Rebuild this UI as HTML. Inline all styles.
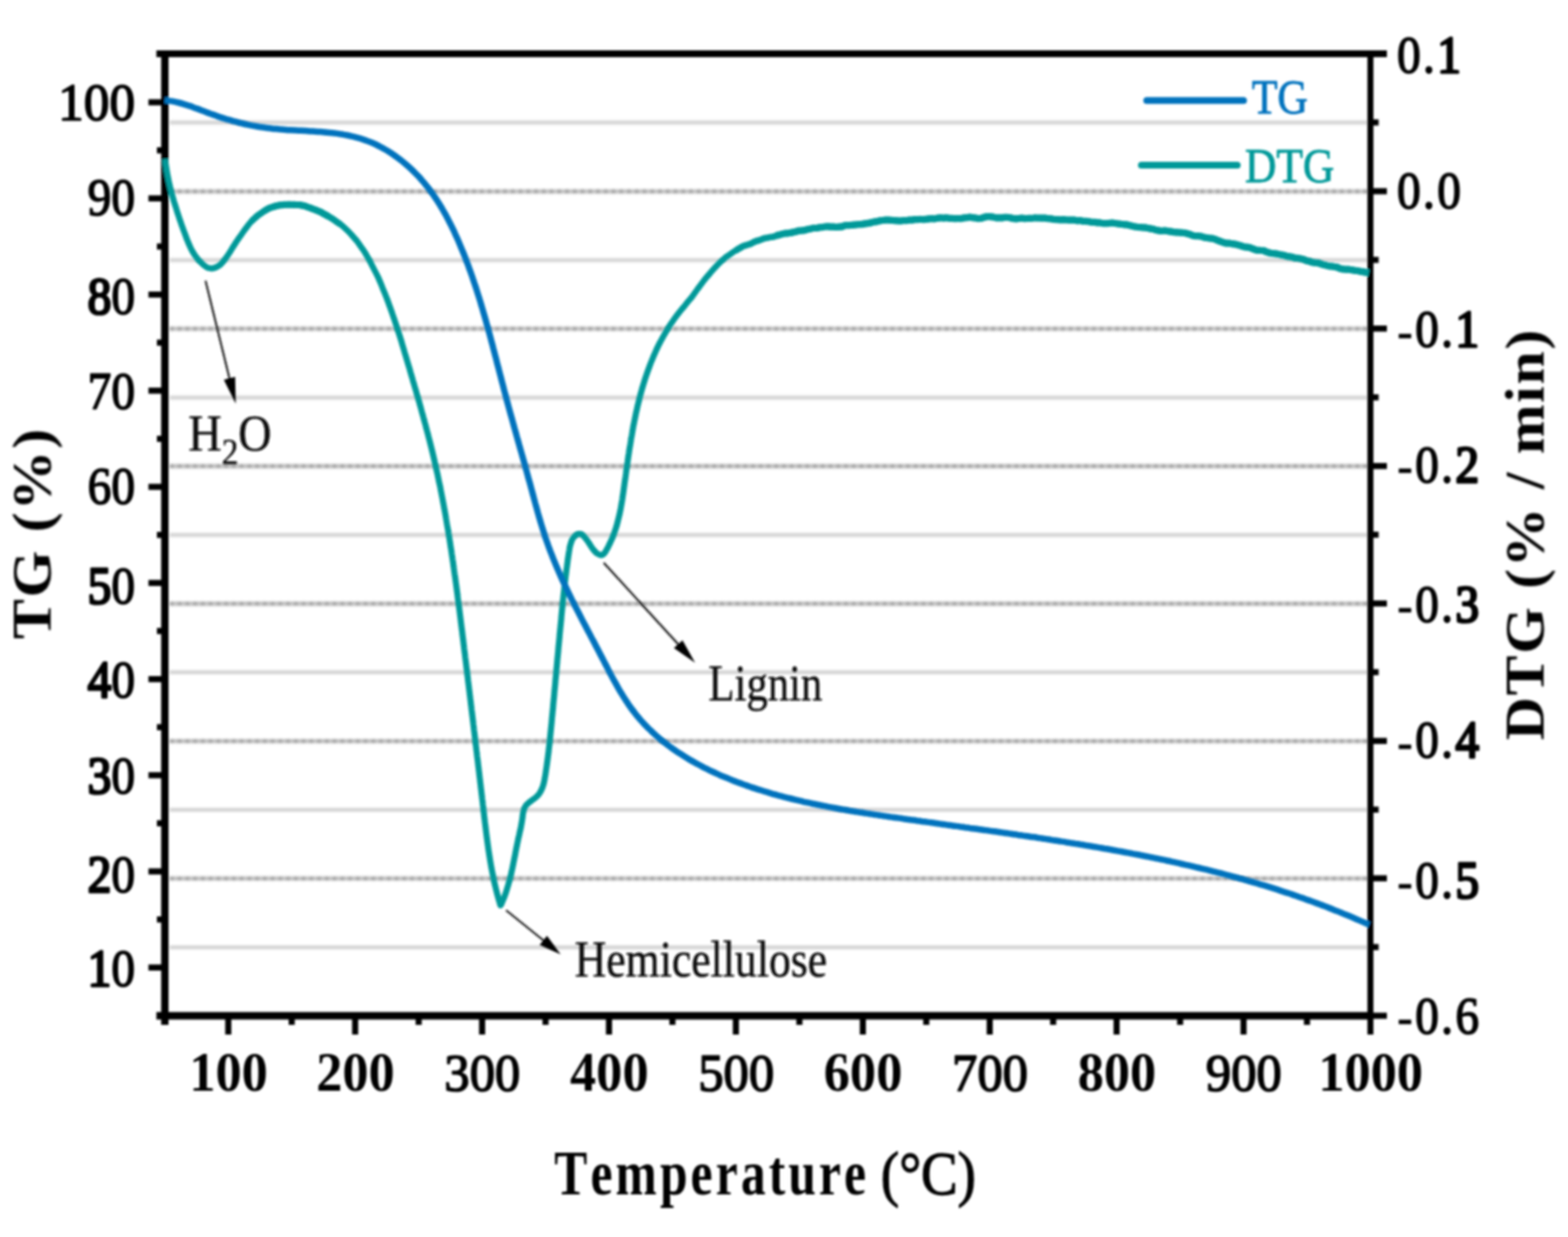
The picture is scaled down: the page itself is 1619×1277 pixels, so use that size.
<!DOCTYPE html>
<html lang="en"><head><meta charset="utf-8"><title>TG / DTG curves</title>
<style>
html,body{margin:0;padding:0;background:#fff;}
body{width:1619px;height:1277px;overflow:hidden;}
svg{display:block;}
text{font-family:"Liberation Serif","Times New Roman",serif;font-kerning:none;}
.b{font-weight:bold;}
.s1{stroke:#000;stroke-width:1.3px;stroke-linejoin:round;}
.sb{stroke:#0072bd;stroke-width:0.9px;stroke-linejoin:round;}
.st{stroke:#009999;stroke-width:0.9px;stroke-linejoin:round;}
.sa{stroke:#111;stroke-width:0.5px;stroke-linejoin:round;}
.tl{stroke:#000;stroke-width:1.6px;stroke-linejoin:round;}
.hy{stroke-width:0.3px;}
.hv{stroke-width:2.7px;}
</style></head><body>
<svg width="1619" height="1277" viewBox="0 0 1619 1277">
<defs><filter id="bl" x="-5%" y="-5%" width="110%" height="110%"><feGaussianBlur in="SourceGraphic" stdDeviation="1.0"/></filter><filter id="bg" x="-5%" y="-5%" width="110%" height="110%"><feGaussianBlur in="SourceGraphic" stdDeviation="1.7"/></filter></defs>
<rect width="1619" height="1277" fill="#fff"/>
<g fill="none" filter="url(#bg)">
<line x1="175.2" y1="126.6" x2="1412.0" y2="126.6" stroke="#d3d3d3" stroke-width="4"/>
<line x1="175.2" y1="197.6" x2="1413.0" y2="197.6" stroke="#c4c4c4" stroke-width="4.4"/>
<line x1="175.2" y1="197.6" x2="1413.0" y2="197.6" stroke="#8a8a8a" stroke-width="3.6" stroke-dasharray="4.5 3.5" opacity="0.6"/>
<line x1="175.2" y1="268.5" x2="1412.0" y2="268.5" stroke="#d3d3d3" stroke-width="4"/>
<line x1="175.2" y1="339.4" x2="1413.0" y2="339.4" stroke="#c4c4c4" stroke-width="4.4"/>
<line x1="175.2" y1="339.4" x2="1413.0" y2="339.4" stroke="#8a8a8a" stroke-width="3.6" stroke-dasharray="4.5 3.5" opacity="0.6"/>
<line x1="175.2" y1="410.4" x2="1412.0" y2="410.4" stroke="#d3d3d3" stroke-width="4"/>
<line x1="175.2" y1="481.3" x2="1413.0" y2="481.3" stroke="#c4c4c4" stroke-width="4.4"/>
<line x1="175.2" y1="481.3" x2="1413.0" y2="481.3" stroke="#8a8a8a" stroke-width="3.6" stroke-dasharray="4.5 3.5" opacity="0.6"/>
<line x1="175.2" y1="552.2" x2="1412.0" y2="552.2" stroke="#d3d3d3" stroke-width="4"/>
<line x1="175.2" y1="623.2" x2="1413.0" y2="623.2" stroke="#c4c4c4" stroke-width="4.4"/>
<line x1="175.2" y1="623.2" x2="1413.0" y2="623.2" stroke="#8a8a8a" stroke-width="3.6" stroke-dasharray="4.5 3.5" opacity="0.6"/>
<line x1="175.2" y1="694.1" x2="1412.0" y2="694.1" stroke="#d3d3d3" stroke-width="4"/>
<line x1="175.2" y1="765.1" x2="1413.0" y2="765.1" stroke="#c4c4c4" stroke-width="4.4"/>
<line x1="175.2" y1="765.1" x2="1413.0" y2="765.1" stroke="#8a8a8a" stroke-width="3.6" stroke-dasharray="4.5 3.5" opacity="0.6"/>
<line x1="175.2" y1="836.0" x2="1412.0" y2="836.0" stroke="#d3d3d3" stroke-width="4"/>
<line x1="175.2" y1="906.9" x2="1413.0" y2="906.9" stroke="#c4c4c4" stroke-width="4.4"/>
<line x1="175.2" y1="906.9" x2="1413.0" y2="906.9" stroke="#8a8a8a" stroke-width="3.6" stroke-dasharray="4.5 3.5" opacity="0.6"/>
<line x1="175.2" y1="977.9" x2="1412.0" y2="977.9" stroke="#d3d3d3" stroke-width="4"/>
</g>
<g filter="url(#bl)">
<g stroke="#000" fill="none" stroke-linecap="butt">
<line x1="161.5" y1="55.5" x2="1432.0" y2="55.5" stroke-width="7.2"/>
<line x1="161.5" y1="1048.6" x2="1415.0" y2="1048.6" stroke-width="7.6"/>
<line x1="1415.0" y1="1048.6" x2="1432.0" y2="1048.6" stroke-width="6.3"/>
<line x1="170.2" y1="52.5" x2="170.2" y2="1058.0" stroke-width="7.6"/>
<line x1="1415.0" y1="52.5" x2="1415.0" y2="1068.0" stroke-width="6.2"/>
<g stroke-width="6.3">
<line x1="153.3" y1="998.8" x2="170.2" y2="998.8"/>
<line x1="153.3" y1="899.6" x2="170.2" y2="899.6"/>
<line x1="153.3" y1="800.3" x2="170.2" y2="800.3"/>
<line x1="153.3" y1="701.1" x2="170.2" y2="701.1"/>
<line x1="153.3" y1="601.8" x2="170.2" y2="601.8"/>
<line x1="153.3" y1="502.6" x2="170.2" y2="502.6"/>
<line x1="153.3" y1="403.3" x2="170.2" y2="403.3"/>
<line x1="153.3" y1="304.1" x2="170.2" y2="304.1"/>
<line x1="153.3" y1="204.8" x2="170.2" y2="204.8"/>
<line x1="153.3" y1="105.6" x2="170.2" y2="105.6"/>
<line x1="162.0" y1="949.2" x2="170.2" y2="949.2"/>
<line x1="162.0" y1="849.9" x2="170.2" y2="849.9"/>
<line x1="162.0" y1="750.7" x2="170.2" y2="750.7"/>
<line x1="162.0" y1="651.4" x2="170.2" y2="651.4"/>
<line x1="162.0" y1="552.2" x2="170.2" y2="552.2"/>
<line x1="162.0" y1="453.0" x2="170.2" y2="453.0"/>
<line x1="162.0" y1="353.7" x2="170.2" y2="353.7"/>
<line x1="162.0" y1="254.5" x2="170.2" y2="254.5"/>
<line x1="162.0" y1="155.2" x2="170.2" y2="155.2"/>
<line x1="1415.0" y1="126.4" x2="1423.5" y2="126.4"/>
<line x1="1415.0" y1="197.4" x2="1432.0" y2="197.4"/>
<line x1="1415.0" y1="268.3" x2="1423.5" y2="268.3"/>
<line x1="1415.0" y1="339.2" x2="1432.0" y2="339.2"/>
<line x1="1415.0" y1="410.2" x2="1423.5" y2="410.2"/>
<line x1="1415.0" y1="481.1" x2="1432.0" y2="481.1"/>
<line x1="1415.0" y1="552.0" x2="1423.5" y2="552.0"/>
<line x1="1415.0" y1="623.0" x2="1432.0" y2="623.0"/>
<line x1="1415.0" y1="693.9" x2="1423.5" y2="693.9"/>
<line x1="1415.0" y1="764.9" x2="1432.0" y2="764.9"/>
<line x1="1415.0" y1="835.8" x2="1423.5" y2="835.8"/>
<line x1="1415.0" y1="906.7" x2="1432.0" y2="906.7"/>
<line x1="1415.0" y1="977.7" x2="1423.5" y2="977.7"/>
<line x1="235.7" y1="1048.6" x2="235.7" y2="1068.0"/>
<line x1="366.7" y1="1048.6" x2="366.7" y2="1068.0"/>
<line x1="497.8" y1="1048.6" x2="497.8" y2="1068.0"/>
<line x1="628.8" y1="1048.6" x2="628.8" y2="1068.0"/>
<line x1="759.8" y1="1048.6" x2="759.8" y2="1068.0"/>
<line x1="890.9" y1="1048.6" x2="890.9" y2="1068.0"/>
<line x1="1021.9" y1="1048.6" x2="1021.9" y2="1068.0"/>
<line x1="1152.9" y1="1048.6" x2="1152.9" y2="1068.0"/>
<line x1="1284.0" y1="1048.6" x2="1284.0" y2="1068.0"/>
<line x1="301.2" y1="1048.6" x2="301.2" y2="1058.0"/>
<line x1="432.3" y1="1048.6" x2="432.3" y2="1058.0"/>
<line x1="563.3" y1="1048.6" x2="563.3" y2="1058.0"/>
<line x1="694.3" y1="1048.6" x2="694.3" y2="1058.0"/>
<line x1="825.4" y1="1048.6" x2="825.4" y2="1058.0"/>
<line x1="956.4" y1="1048.6" x2="956.4" y2="1058.0"/>
<line x1="1087.4" y1="1048.6" x2="1087.4" y2="1058.0"/>
<line x1="1218.5" y1="1048.6" x2="1218.5" y2="1058.0"/>
<line x1="1349.5" y1="1048.6" x2="1349.5" y2="1058.0"/>
</g></g>
<g transform="scale(1.000 1)" fill="none" stroke-width="6.3" stroke-linejoin="round" stroke-linecap="butt">
<path d="M170.5 163.9C170.6 164.5 170.7 166.0 170.8 167.0C171.0 168.0 171.1 169.0 171.2 170.0C171.4 171.0 171.5 172.0 171.7 173.0C171.8 174.0 172.0 175.0 172.1 176.0C172.3 176.9 172.5 177.9 172.6 178.9C172.8 179.9 173.0 180.9 173.2 181.9C173.4 182.9 173.6 183.9 173.8 184.9C174.0 185.8 174.2 186.8 174.4 187.8C174.6 188.8 174.8 189.8 175.1 190.7C175.3 191.7 175.5 192.7 175.7 193.6C176.0 194.6 176.2 195.6 176.5 196.5C176.7 197.5 177.0 198.4 177.2 199.4C177.5 200.3 177.7 201.3 178.0 202.3C178.3 203.2 178.5 204.1 178.8 205.0C179.1 206.0 179.3 207.0 179.6 208.0C179.9 208.9 180.2 209.8 180.5 210.8C180.8 211.7 181.1 212.7 181.4 213.6C181.7 214.5 182.0 215.4 182.3 216.4C182.6 217.3 182.9 218.3 183.2 219.3C183.5 220.3 183.8 221.2 184.1 222.2C184.5 223.2 184.8 224.2 185.1 225.1C185.4 226.1 185.7 227.0 186.1 227.9C186.4 228.9 186.7 229.9 187.1 230.8C187.4 231.8 187.7 232.8 188.1 233.7C188.4 234.7 188.7 235.6 189.1 236.5C189.4 237.5 189.8 238.3 190.1 239.2C190.5 240.2 190.8 241.1 191.2 242.1C191.5 243.0 191.9 244.0 192.2 245.0C192.6 246.0 193.0 247.0 193.4 248.0C193.8 248.9 194.1 249.8 194.5 250.8C194.9 251.7 195.4 252.7 195.8 253.6C196.2 254.6 196.7 255.6 197.1 256.5C197.6 257.4 198.0 258.3 198.5 259.1C199.0 260.0 199.5 260.9 200.1 261.7C200.6 262.6 201.1 263.3 201.7 264.2C202.3 265.0 202.9 265.8 203.5 266.6C204.1 267.4 204.8 268.2 205.4 268.9C206.1 269.6 206.8 270.2 207.5 270.9C208.2 271.6 209.0 272.5 209.8 273.2C210.6 273.8 211.4 274.5 212.2 275.1C213.1 275.6 213.9 276.2 214.8 276.5C215.7 276.8 216.6 276.9 217.4 277.0C218.3 277.1 219.2 277.1 220.1 276.9C221.0 276.8 221.9 276.4 222.8 276.0C223.7 275.6 224.5 275.2 225.4 274.7C226.2 274.2 227.0 273.6 227.7 273.0C228.5 272.3 229.2 271.4 229.9 270.6C230.6 269.8 231.3 269.0 231.9 268.1C232.6 267.3 233.2 266.4 233.8 265.5C234.4 264.7 235.0 263.8 235.6 262.9C236.2 262.1 236.7 261.2 237.3 260.4C237.8 259.5 238.4 258.6 238.9 257.7C239.5 256.8 240.0 255.9 240.5 255.0C241.1 254.2 241.6 253.4 242.2 252.5C242.7 251.7 243.3 250.8 243.8 250.0C244.3 249.2 244.9 248.4 245.4 247.6C246.0 246.8 246.5 246.0 247.1 245.2C247.7 244.4 248.2 243.6 248.8 242.8C249.3 242.1 249.9 241.2 250.5 240.4C251.1 239.6 251.6 238.7 252.2 237.9C252.8 237.1 253.4 236.3 254.0 235.5C254.6 234.7 255.2 233.9 255.8 233.1C256.5 232.3 257.1 231.5 257.7 230.7C258.4 229.9 259.0 229.1 259.7 228.4C260.4 227.6 261.1 227.0 261.8 226.3C262.5 225.6 263.2 225.0 263.9 224.4C264.6 223.7 265.4 223.1 266.1 222.5C266.9 221.9 267.7 221.4 268.5 220.9C269.3 220.3 270.1 219.6 271.0 219.1C271.8 218.5 272.7 218.0 273.6 217.5C274.5 216.9 275.4 216.3 276.3 215.8C277.2 215.3 278.1 214.9 279.1 214.5C280.0 214.2 280.9 213.9 281.9 213.6C282.9 213.3 283.8 213.0 284.8 212.7C285.8 212.5 286.8 212.2 287.8 212.0C288.8 211.8 289.8 211.8 290.8 211.7C291.8 211.6 292.8 211.3 293.8 211.2C294.8 211.2 295.8 211.2 296.8 211.2C297.8 211.2 298.8 211.1 299.9 211.2C300.9 211.2 301.9 211.3 302.9 211.3C303.9 211.4 304.9 211.3 305.9 211.4C306.8 211.4 307.8 211.5 308.8 211.6C309.8 211.7 310.8 211.8 311.7 212.0C312.7 212.1 313.7 212.3 314.6 212.6C315.6 212.9 316.5 213.3 317.5 213.7C318.4 214.0 319.4 214.2 320.3 214.6C321.3 215.0 322.2 215.5 323.1 215.8C324.0 216.2 325.0 216.4 325.9 216.7C326.8 217.1 327.7 217.5 328.6 217.9C329.5 218.3 330.4 218.6 331.3 219.0C332.2 219.5 333.1 220.1 334.0 220.6C334.9 221.1 335.8 221.5 336.6 222.0C337.5 222.4 338.4 223.0 339.3 223.5C340.1 224.0 341.0 224.4 341.8 224.9C342.7 225.5 343.5 226.0 344.4 226.6C345.2 227.2 346.1 227.8 346.9 228.4C347.7 229.0 348.5 229.5 349.3 230.1C350.1 230.6 350.9 231.1 351.7 231.7C352.5 232.3 353.3 233.0 354.1 233.7C354.8 234.3 355.6 235.0 356.3 235.7C357.1 236.4 357.8 237.1 358.6 237.8C359.3 238.6 360.0 239.3 360.7 240.0C361.4 240.8 362.1 241.4 362.7 242.1C363.4 242.9 364.1 243.7 364.7 244.4C365.4 245.1 366.0 245.8 366.7 246.6C367.3 247.3 367.9 248.0 368.5 248.8C369.2 249.6 369.8 250.6 370.4 251.4C371.0 252.2 371.5 253.0 372.1 253.8C372.7 254.6 373.3 255.5 373.8 256.3C374.4 257.1 374.9 257.8 375.5 258.6C376.0 259.4 376.5 260.2 377.1 261.1C377.6 262.0 378.1 262.9 378.6 263.8C379.1 264.7 379.6 265.5 380.1 266.4C380.6 267.2 381.1 268.1 381.6 268.9C382.1 269.8 382.6 270.8 383.0 271.7C383.5 272.6 384.0 273.5 384.4 274.5C384.9 275.4 385.4 276.3 385.8 277.2C386.3 278.1 386.7 278.9 387.1 279.7C387.6 280.6 388.0 281.4 388.4 282.2C388.9 283.1 389.3 283.9 389.7 284.8C390.1 285.7 390.6 286.6 391.0 287.5C391.4 288.5 391.8 289.4 392.2 290.4C392.6 291.3 393.0 292.3 393.4 293.2C393.8 294.2 394.2 295.2 394.6 296.2C395.0 297.1 395.3 298.0 395.7 299.0C396.1 299.9 396.5 300.8 396.9 301.7C397.2 302.7 397.6 303.6 398.0 304.5C398.3 305.4 398.7 306.3 399.1 307.2C399.4 308.1 399.8 309.1 400.1 310.0C400.5 311.0 400.8 311.9 401.2 312.9C401.5 313.9 401.9 314.8 402.2 315.8C402.6 316.7 402.9 317.6 403.2 318.5C403.6 319.5 403.9 320.3 404.2 321.3C404.6 322.2 404.9 323.2 405.2 324.2C405.6 325.1 405.9 326.0 406.2 327.0C406.5 327.9 406.9 328.9 407.2 329.9C407.5 330.9 407.8 331.8 408.1 332.7C408.4 333.7 408.7 334.7 409.1 335.7C409.4 336.6 409.7 337.5 410.0 338.5C410.3 339.4 410.6 340.3 410.9 341.2C411.2 342.2 411.5 343.1 411.8 344.0C412.1 344.9 412.4 345.8 412.7 346.8C413.0 347.7 413.3 348.7 413.6 349.6C413.9 350.6 414.2 351.5 414.5 352.5C414.8 353.5 415.0 354.4 415.3 355.4C415.6 356.4 415.9 357.4 416.2 358.4C416.5 359.4 416.8 360.4 417.1 361.3C417.4 362.3 417.6 363.2 417.9 364.2C418.2 365.1 418.5 366.0 418.8 367.0C419.1 368.0 419.4 368.9 419.6 369.9C419.9 370.9 420.2 371.9 420.5 372.9C420.8 373.9 421.1 374.8 421.3 375.7C421.6 376.7 421.9 377.6 422.2 378.6C422.5 379.5 422.8 380.5 423.1 381.4C423.3 382.4 423.6 383.4 423.9 384.4C424.2 385.3 424.5 386.3 424.7 387.3C425.0 388.2 425.3 389.2 425.6 390.2C425.9 391.2 426.2 392.2 426.4 393.2C426.7 394.1 427.0 395.1 427.3 396.0C427.6 397.0 427.8 397.9 428.1 398.8C428.4 399.8 428.7 400.8 429.0 401.7C429.2 402.7 429.5 403.7 429.8 404.6C430.1 405.6 430.3 406.6 430.6 407.5C430.9 408.4 431.2 409.3 431.5 410.3C431.7 411.2 432.0 412.2 432.3 413.1C432.5 414.1 432.8 415.0 433.1 416.0C433.4 417.0 433.6 418.0 433.9 419.0C434.2 420.0 434.5 421.0 434.7 421.9C435.0 422.9 435.3 423.9 435.5 424.9C435.8 425.8 436.1 426.8 436.3 427.8C436.6 428.7 436.9 429.7 437.1 430.7C437.4 431.7 437.6 432.6 437.9 433.6C438.2 434.5 438.4 435.5 438.7 436.5C439.0 437.4 439.2 438.4 439.5 439.4C439.7 440.3 440.0 441.3 440.2 442.3C440.5 443.2 440.8 444.2 441.0 445.2C441.3 446.1 441.5 447.0 441.8 448.0C442.0 448.9 442.3 449.9 442.5 450.9C442.8 451.8 443.0 452.8 443.3 453.8C443.5 454.8 443.8 455.8 444.0 456.7C444.3 457.7 444.5 458.7 444.7 459.6C445.0 460.6 445.2 461.6 445.5 462.6C445.7 463.5 445.9 464.5 446.2 465.4C446.4 466.4 446.6 467.4 446.9 468.4C447.1 469.4 447.3 470.4 447.6 471.3C447.8 472.3 448.0 473.3 448.3 474.3C448.5 475.2 448.7 476.2 448.9 477.2C449.2 478.2 449.4 479.2 449.6 480.1C449.8 481.1 450.1 482.1 450.3 483.1C450.5 484.1 450.7 485.0 450.9 486.0C451.1 486.9 451.4 487.9 451.6 488.9C451.8 489.9 452.0 490.9 452.2 491.9C452.4 492.9 452.6 493.9 452.8 494.9C453.0 495.9 453.2 496.8 453.4 497.8C453.6 498.8 453.9 499.8 454.1 500.7C454.3 501.7 454.5 502.6 454.7 503.6C454.8 504.5 455.0 505.5 455.2 506.5C455.4 507.5 455.6 508.5 455.8 509.5C456.0 510.5 456.2 511.5 456.4 512.5C456.6 513.5 456.8 514.5 457.0 515.5C457.2 516.5 457.3 517.4 457.5 518.4C457.7 519.4 457.9 520.4 458.1 521.4C458.3 522.3 458.4 523.3 458.6 524.3C458.8 525.2 459.0 526.2 459.2 527.2C459.3 528.2 459.5 529.2 459.7 530.1C459.9 531.1 460.0 532.1 460.2 533.1C460.4 534.1 460.6 535.1 460.7 536.1C460.9 537.1 461.1 538.1 461.2 539.1C461.4 540.1 461.6 541.1 461.7 542.1C461.9 543.0 462.1 544.0 462.2 545.0C462.4 546.0 462.6 547.0 462.7 547.9C462.9 548.9 463.1 549.9 463.2 550.8C463.4 551.8 463.5 552.8 463.7 553.8C463.8 554.8 464.0 555.7 464.2 556.7C464.3 557.7 464.5 558.7 464.6 559.7C464.8 560.7 464.9 561.7 465.1 562.7C465.2 563.7 465.4 564.7 465.5 565.7C465.7 566.7 465.9 567.7 466.0 568.7C466.2 569.7 466.3 570.6 466.4 571.6C466.6 572.6 466.7 573.6 466.9 574.6C467.0 575.5 467.2 576.5 467.3 577.5C467.5 578.5 467.6 579.5 467.8 580.5C467.9 581.5 468.0 582.6 468.2 583.6C468.3 584.6 468.5 585.5 468.6 586.5C468.8 587.5 468.9 588.6 469.0 589.6C469.2 590.6 469.3 591.5 469.4 592.5C469.6 593.5 469.7 594.5 469.9 595.5C470.0 596.5 470.1 597.5 470.3 598.5C470.4 599.5 470.5 600.5 470.7 601.5C470.8 602.5 470.9 603.4 471.1 604.4C471.2 605.4 471.3 606.4 471.5 607.4C471.6 608.4 471.7 609.4 471.9 610.4C472.0 611.4 472.1 612.4 472.3 613.3C472.4 614.3 472.5 615.3 472.6 616.3C472.8 617.3 472.9 618.3 473.0 619.3C473.2 620.3 473.3 621.3 473.4 622.3C473.5 623.2 473.7 624.3 473.8 625.3C473.9 626.3 474.1 627.3 474.2 628.3C474.3 629.3 474.4 630.3 474.6 631.3C474.7 632.3 474.8 633.2 474.9 634.2C475.1 635.2 475.2 636.2 475.3 637.2C475.4 638.2 475.6 639.2 475.7 640.2C475.8 641.2 475.9 642.2 476.0 643.2C476.2 644.2 476.3 645.2 476.4 646.2C476.5 647.2 476.7 648.1 476.8 649.1C476.9 650.1 477.0 651.1 477.2 652.1C477.3 653.1 477.4 654.1 477.5 655.1C477.6 656.1 477.8 657.1 477.9 658.1C478.0 659.1 478.1 660.1 478.3 661.1C478.4 662.1 478.5 663.1 478.6 664.0C478.7 665.0 478.9 666.1 479.0 667.1C479.1 668.1 479.2 669.0 479.3 670.0C479.5 671.0 479.6 672.1 479.7 673.1C479.8 674.1 480.0 675.0 480.1 676.0C480.2 677.0 480.3 678.0 480.4 679.0C480.6 680.0 480.7 681.0 480.8 682.0C480.9 683.0 481.0 683.9 481.2 684.9C481.3 685.9 481.4 686.9 481.5 687.9C481.6 688.9 481.8 689.9 481.9 690.9C482.0 691.9 482.1 692.9 482.3 693.9C482.4 694.9 482.5 695.9 482.6 696.9C482.7 697.9 482.9 698.9 483.0 699.9C483.1 700.9 483.2 701.9 483.3 702.9C483.5 703.8 483.6 704.8 483.7 705.8C483.8 706.8 483.9 707.8 484.1 708.8C484.2 709.8 484.3 710.8 484.4 711.8C484.5 712.7 484.7 713.7 484.8 714.7C484.9 715.7 485.0 716.7 485.1 717.7C485.3 718.7 485.4 719.7 485.5 720.7C485.6 721.7 485.7 722.6 485.9 723.6C486.0 724.6 486.1 725.6 486.2 726.6C486.3 727.6 486.5 728.6 486.6 729.6C486.7 730.6 486.8 731.6 486.9 732.6C487.1 733.6 487.2 734.6 487.3 735.6C487.4 736.6 487.5 737.6 487.7 738.6C487.8 739.6 487.9 740.5 488.0 741.5C488.1 742.5 488.3 743.5 488.4 744.5C488.5 745.5 488.6 746.5 488.7 747.5C488.9 748.5 489.0 749.5 489.1 750.5C489.2 751.5 489.3 752.5 489.4 753.5C489.6 754.5 489.7 755.5 489.8 756.5C489.9 757.5 490.0 758.5 490.2 759.4C490.3 760.4 490.4 761.4 490.5 762.4C490.6 763.4 490.8 764.4 490.9 765.4C491.0 766.4 491.1 767.4 491.2 768.4C491.3 769.4 491.5 770.4 491.6 771.4C491.7 772.4 491.8 773.4 491.9 774.4C492.1 775.4 492.2 776.3 492.3 777.3C492.4 778.3 492.5 779.3 492.6 780.3C492.8 781.3 492.9 782.3 493.0 783.3C493.1 784.3 493.2 785.3 493.4 786.3C493.5 787.3 493.6 788.3 493.7 789.2C493.8 790.2 493.9 791.2 494.1 792.2C494.2 793.2 494.3 794.2 494.4 795.2C494.5 796.2 494.7 797.1 494.8 798.1C494.9 799.1 495.0 800.1 495.1 801.1C495.2 802.1 495.4 803.1 495.5 804.1C495.6 805.1 495.7 806.1 495.8 807.1C495.9 808.1 496.1 809.1 496.2 810.1C496.3 811.1 496.4 812.1 496.5 813.1C496.6 814.1 496.8 815.1 496.9 816.1C497.0 817.1 497.1 818.1 497.2 819.1C497.3 820.1 497.5 821.1 497.6 822.1C497.7 823.1 497.8 824.0 497.9 825.0C498.1 826.0 498.2 827.0 498.3 828.0C498.4 829.0 498.5 830.0 498.6 831.0C498.8 832.0 498.9 833.0 499.0 834.0C499.1 835.0 499.2 836.0 499.3 837.0C499.4 838.0 499.6 839.0 499.7 840.0C499.8 841.0 499.9 842.0 500.0 843.0C500.1 844.0 500.3 845.0 500.4 846.0C500.5 847.0 500.6 848.0 500.7 848.9C500.9 849.9 501.0 850.9 501.1 851.9C501.2 852.9 501.3 853.9 501.5 854.9C501.6 855.9 501.7 856.9 501.8 857.9C501.9 858.9 502.1 859.9 502.2 860.9C502.3 861.9 502.4 862.9 502.6 863.9C502.7 864.9 502.8 865.9 503.0 866.9C503.1 867.9 503.2 868.9 503.4 869.9C503.5 870.9 503.6 871.8 503.8 872.8C503.9 873.8 504.0 874.8 504.2 875.8C504.3 876.8 504.5 877.8 504.6 878.7C504.8 879.7 504.9 880.7 505.1 881.7C505.2 882.7 505.4 883.7 505.5 884.7C505.7 885.7 505.8 886.7 506.0 887.7C506.2 888.6 506.3 889.6 506.5 890.6C506.7 891.6 506.8 892.6 507.0 893.6C507.2 894.6 507.4 895.6 507.5 896.5C507.7 897.5 507.9 898.5 508.1 899.5C508.3 900.5 508.5 901.4 508.7 902.4C508.9 903.4 509.1 904.4 509.3 905.4C509.5 906.3 509.7 907.3 509.9 908.3C510.1 909.2 510.3 910.2 510.5 911.2C510.7 912.2 511.0 913.2 511.2 914.1C511.4 915.1 511.7 916.0 511.9 917.0C512.1 918.0 512.4 919.0 512.6 919.9C512.9 920.9 513.1 921.9 513.4 922.9C513.6 923.9 513.9 924.9 514.2 925.9C514.4 926.8 514.7 927.8 515.0 928.7C515.2 929.7 515.5 930.7 515.8 931.6C516.1 932.6 516.5 934.0 516.7 934.5L517.2 934.2C517.4 933.8 518.0 932.4 518.4 931.5C518.8 930.6 519.2 929.6 519.6 928.7C520.0 927.8 520.3 926.9 520.7 926.0C521.1 925.0 521.4 924.1 521.7 923.2C522.1 922.3 522.4 921.3 522.7 920.3C523.0 919.4 523.3 918.3 523.6 917.3C523.9 916.4 524.2 915.4 524.5 914.4C524.8 913.4 525.1 912.5 525.3 911.5C525.6 910.5 525.9 909.6 526.1 908.6C526.4 907.7 526.6 906.7 526.9 905.7C527.1 904.8 527.3 903.8 527.6 902.9C527.8 901.9 528.0 900.9 528.2 900.0C528.5 899.0 528.7 898.0 528.9 897.0C529.1 896.1 529.3 895.1 529.5 894.1C529.7 893.1 529.9 892.1 530.1 891.1C530.3 890.1 530.5 889.1 530.7 888.1C530.9 887.2 531.1 886.2 531.3 885.2C531.5 884.2 531.7 883.2 531.9 882.3C532.1 881.3 532.2 880.3 532.4 879.3C532.6 878.4 532.8 877.4 533.0 876.4C533.2 875.4 533.4 874.5 533.6 873.5C533.8 872.5 534.0 871.5 534.2 870.5C534.4 869.6 534.6 868.6 534.8 867.6C535.0 866.6 535.2 865.7 535.4 864.7C535.6 863.8 535.8 862.8 536.1 861.9C536.3 860.9 536.5 859.9 536.7 858.9C536.9 858.0 537.1 857.0 537.4 856.0C537.6 855.1 537.8 854.1 538.0 853.1C538.2 852.2 538.3 851.2 538.5 850.2C538.7 849.2 538.9 848.2 539.0 847.2C539.2 846.2 539.3 845.1 539.5 844.1C539.6 843.0 539.7 842.0 539.8 840.9C540.0 839.9 540.1 838.9 540.4 837.9C540.6 836.9 540.9 835.9 541.2 834.9C541.6 834.0 542.0 833.1 542.5 832.3C543.0 831.5 543.7 830.8 544.4 830.1C545.1 829.5 545.9 828.8 546.6 828.2C547.4 827.5 548.3 826.9 549.1 826.3C549.9 825.7 550.8 825.1 551.6 824.4C552.4 823.8 553.2 823.2 553.9 822.6C554.6 821.9 555.3 821.2 555.9 820.5C556.5 819.7 557.1 818.9 557.6 818.1C558.1 817.3 558.5 816.5 558.9 815.6C559.4 814.8 559.7 813.9 560.1 813.0C560.4 812.1 560.7 811.2 561.0 810.2C561.3 809.3 561.5 808.3 561.7 807.3C562.0 806.3 562.2 805.2 562.4 804.2C562.5 803.2 562.7 802.2 562.9 801.2C563.1 800.2 563.2 799.1 563.4 798.1C563.5 797.1 563.7 796.1 563.8 795.1C564.0 794.1 564.1 793.1 564.3 792.1C564.4 791.1 564.6 790.1 564.7 789.1C564.9 788.1 565.0 787.1 565.1 786.1C565.3 785.1 565.4 784.1 565.5 783.1C565.6 782.1 565.8 781.1 565.9 780.1C566.0 779.2 566.1 778.2 566.3 777.2C566.4 776.2 566.5 775.2 566.6 774.2C566.7 773.2 566.8 772.3 566.9 771.3C567.1 770.3 567.2 769.3 567.3 768.3C567.4 767.3 567.5 766.3 567.6 765.3C567.7 764.3 567.8 763.3 567.9 762.3C568.0 761.3 568.1 760.4 568.2 759.4C568.3 758.4 568.4 757.4 568.5 756.4C568.6 755.4 568.7 754.4 568.8 753.4C568.9 752.4 569.0 751.4 569.1 750.4C569.2 749.4 569.3 748.4 569.4 747.5C569.5 746.5 569.6 745.5 569.7 744.5C569.7 743.5 569.8 742.5 569.9 741.5C570.0 740.6 570.1 739.6 570.2 738.6C570.3 737.6 570.4 736.6 570.5 735.6C570.6 734.6 570.7 733.6 570.8 732.6C570.9 731.6 571.0 730.6 571.1 729.6C571.2 728.6 571.2 727.6 571.3 726.6C571.4 725.6 571.5 724.6 571.6 723.6C571.7 722.6 571.8 721.6 571.9 720.6C572.0 719.6 572.1 718.6 572.2 717.6C572.3 716.6 572.4 715.6 572.4 714.6C572.5 713.6 572.6 712.6 572.7 711.6C572.8 710.6 572.9 709.6 573.0 708.6C573.1 707.6 573.2 706.6 573.3 705.6C573.4 704.6 573.4 703.6 573.5 702.6C573.6 701.6 573.7 700.6 573.8 699.6C573.9 698.6 574.0 697.7 574.1 696.7C574.2 695.7 574.3 694.7 574.4 693.7C574.4 692.7 574.5 691.7 574.6 690.7C574.7 689.7 574.8 688.7 574.9 687.7C575.0 686.7 575.1 685.6 575.2 684.6C575.3 683.7 575.4 682.7 575.4 681.7C575.5 680.7 575.6 679.7 575.7 678.7C575.8 677.7 575.9 676.7 576.0 675.7C576.1 674.7 576.2 673.7 576.3 672.7C576.4 671.7 576.5 670.7 576.5 669.7C576.6 668.7 576.7 667.7 576.8 666.7C576.9 665.7 577.0 664.7 577.1 663.7C577.2 662.7 577.3 661.7 577.4 660.7C577.5 659.7 577.6 658.7 577.7 657.7C577.7 656.7 577.8 655.7 577.9 654.7C578.0 653.7 578.1 652.7 578.2 651.7C578.3 650.7 578.4 649.7 578.5 648.7C578.6 647.7 578.7 646.7 578.8 645.7C578.9 644.7 579.0 643.7 579.1 642.7C579.2 641.8 579.3 640.8 579.4 639.8C579.5 638.8 579.6 637.8 579.6 636.8C579.7 635.8 579.8 634.8 579.9 633.8C580.0 632.8 580.1 631.8 580.2 630.8C580.3 629.8 580.4 628.8 580.5 627.8C580.6 626.9 580.7 625.9 580.8 624.9C580.9 623.9 581.0 622.9 581.1 622.0C581.2 621.0 581.3 620.0 581.4 619.0C581.5 618.0 581.6 617.0 581.7 616.0C581.8 615.0 581.9 614.0 582.0 613.0C582.2 612.0 582.3 611.1 582.4 610.1C582.5 609.1 582.6 608.1 582.7 607.1C582.8 606.1 582.9 605.1 583.0 604.1C583.1 603.2 583.2 602.2 583.3 601.2C583.5 600.2 583.6 599.2 583.7 598.2C583.8 597.2 583.9 596.2 584.0 595.2C584.2 594.2 584.3 593.2 584.4 592.2C584.5 591.2 584.7 590.2 584.8 589.2C584.9 588.2 585.0 587.2 585.2 586.2C585.3 585.3 585.4 584.3 585.6 583.3C585.7 582.3 585.8 581.3 586.0 580.2C586.1 579.2 586.2 578.2 586.4 577.2C586.5 576.2 586.7 575.1 586.8 574.1C587.0 573.1 587.1 572.1 587.3 571.1C587.4 570.1 587.6 569.0 587.8 568.0C587.9 567.0 588.1 565.9 588.3 564.9C588.5 563.9 588.8 562.8 589.1 561.8C589.4 560.8 589.7 559.8 590.0 558.9C590.4 558.0 590.8 557.0 591.3 556.2C591.8 555.4 592.4 554.7 593.0 554.0C593.7 553.4 594.4 552.6 595.1 552.1C595.8 551.6 596.6 551.3 597.4 551.2C598.1 551.0 598.9 551.0 599.7 551.3C600.5 551.6 601.3 552.2 602.1 552.9C602.9 553.6 603.6 554.5 604.3 555.3C605.0 556.2 605.7 557.1 606.3 558.0C606.9 558.9 607.5 559.7 608.1 560.6C608.6 561.5 609.2 562.3 609.8 563.3C610.3 564.2 610.9 565.2 611.6 566.1C612.2 567.0 612.9 567.7 613.6 568.6C614.4 569.4 615.2 570.3 616.0 570.9C616.9 571.6 617.8 572.1 618.6 572.4C619.4 572.8 620.3 573.2 621.0 573.1C621.8 573.1 622.5 572.7 623.1 572.1C623.8 571.6 624.3 570.8 624.9 570.0C625.5 569.2 626.0 568.2 626.5 567.2C627.0 566.3 627.5 565.4 628.0 564.5C628.5 563.5 628.9 562.5 629.4 561.6C629.8 560.7 630.3 559.8 630.7 558.8C631.1 557.9 631.5 557.0 631.9 556.1C632.3 555.2 632.7 554.3 633.0 553.3C633.4 552.4 633.8 551.4 634.1 550.5C634.4 549.5 634.8 548.7 635.1 547.7C635.4 546.8 635.7 545.8 636.0 544.9C636.3 543.9 636.6 543.0 636.9 542.0C637.2 541.0 637.4 540.0 637.7 539.0C637.9 538.0 638.2 537.0 638.4 536.1C638.7 535.1 638.9 534.1 639.1 533.2C639.3 532.2 639.6 531.3 639.8 530.3C640.0 529.4 640.2 528.4 640.4 527.4C640.6 526.5 640.8 525.5 641.0 524.5C641.1 523.5 641.3 522.5 641.5 521.5C641.7 520.5 641.8 519.5 642.0 518.5C642.2 517.6 642.3 516.6 642.5 515.6C642.6 514.6 642.8 513.6 642.9 512.6C643.1 511.6 643.2 510.6 643.4 509.6C643.5 508.6 643.7 507.7 643.8 506.7C643.9 505.7 644.1 504.7 644.2 503.7C644.4 502.8 644.5 501.8 644.6 500.8C644.8 499.8 644.9 498.8 645.0 497.8C645.2 496.8 645.3 495.8 645.5 494.8C645.6 493.8 645.7 492.8 645.9 491.8C646.0 490.8 646.1 489.8 646.3 488.8C646.4 487.8 646.6 486.8 646.7 485.8C646.8 484.8 647.0 483.9 647.1 482.9C647.3 481.9 647.4 480.9 647.5 479.9C647.7 478.9 647.8 477.9 648.0 476.9C648.1 475.9 648.3 474.9 648.4 473.9C648.5 472.9 648.7 472.0 648.8 471.0C649.0 470.0 649.1 469.0 649.3 468.0C649.4 467.0 649.6 466.0 649.7 465.0C649.9 464.0 650.0 463.0 650.2 462.1C650.4 461.1 650.5 460.1 650.7 459.1C650.8 458.1 651.0 457.1 651.2 456.1C651.3 455.1 651.5 454.0 651.6 453.0C651.8 452.0 652.0 451.0 652.2 450.1C652.3 449.1 652.5 448.1 652.7 447.1C652.8 446.1 653.0 445.1 653.2 444.2C653.4 443.2 653.6 442.2 653.7 441.2C653.9 440.2 654.1 439.2 654.3 438.3C654.5 437.3 654.7 436.3 654.9 435.4C655.1 434.4 655.3 433.4 655.5 432.4C655.7 431.4 655.9 430.5 656.1 429.5C656.3 428.5 656.5 427.4 656.7 426.4C656.9 425.5 657.1 424.5 657.4 423.5C657.6 422.6 657.8 421.6 658.0 420.6C658.2 419.6 658.5 418.7 658.7 417.7C658.9 416.8 659.2 415.8 659.4 414.8C659.7 413.8 659.9 412.8 660.1 411.8C660.4 410.8 660.6 409.8 660.9 408.9C661.1 407.9 661.4 407.0 661.7 406.0C661.9 405.1 662.2 404.1 662.5 403.1C662.7 402.1 663.0 401.2 663.3 400.3C663.6 399.3 663.8 398.4 664.1 397.4C664.4 396.5 664.7 395.6 665.0 394.6C665.3 393.7 665.6 392.7 665.9 391.8C666.2 390.8 666.5 389.9 666.8 388.9C667.2 388.0 667.5 387.0 667.8 386.1C668.1 385.1 668.5 384.2 668.8 383.2C669.1 382.3 669.5 381.3 669.8 380.4C670.2 379.4 670.5 378.5 670.9 377.6C671.2 376.6 671.6 375.8 671.9 374.8C672.3 373.9 672.7 372.9 673.1 372.0C673.4 371.0 673.8 370.1 674.2 369.2C674.6 368.2 675.0 367.3 675.4 366.4C675.8 365.5 676.2 364.6 676.6 363.6C677.0 362.7 677.4 361.8 677.8 360.9C678.3 359.9 678.7 359.0 679.1 358.1C679.6 357.2 680.0 356.4 680.4 355.5C680.9 354.7 681.3 353.8 681.8 352.9C682.3 352.1 682.7 351.2 683.2 350.4C683.7 349.6 684.2 348.7 684.6 347.8C685.1 347.0 685.6 346.1 686.1 345.2C686.6 344.3 687.1 343.4 687.6 342.6C688.1 341.7 688.7 340.7 689.2 339.9C689.7 339.0 690.2 338.1 690.8 337.2C691.3 336.4 691.9 335.6 692.4 334.7C693.0 333.9 693.5 333.1 694.1 332.3C694.7 331.4 695.2 330.6 695.8 329.8C696.4 329.0 697.0 328.1 697.6 327.3C698.2 326.5 698.8 325.7 699.4 324.9C700.0 324.1 700.6 323.4 701.2 322.6C701.9 321.9 702.5 321.0 703.1 320.3C703.8 319.5 704.4 318.7 705.1 317.9C705.7 317.2 706.3 316.4 707.0 315.7C707.6 314.9 708.3 314.0 708.9 313.2C709.5 312.4 710.2 311.6 710.8 310.8C711.5 310.1 712.1 309.4 712.7 308.6C713.3 307.9 714.0 307.1 714.6 306.3C715.2 305.5 715.8 304.7 716.4 303.9C717.0 303.1 717.6 302.2 718.2 301.3C718.8 300.5 719.4 299.7 719.9 298.9C720.5 298.1 721.1 297.3 721.7 296.5C722.3 295.7 722.8 294.9 723.4 294.2C724.0 293.4 724.6 292.7 725.2 291.9C725.7 291.1 726.3 290.2 726.9 289.5C727.5 288.7 728.1 288.0 728.7 287.3C729.3 286.5 729.9 285.8 730.6 285.1C731.2 284.4 731.8 283.6 732.4 282.9C733.1 282.1 733.7 281.3 734.4 280.5C735.1 279.7 735.7 278.9 736.4 278.2C737.1 277.4 737.8 276.7 738.5 275.9C739.2 275.2 739.9 274.4 740.6 273.7C741.4 273.0 742.1 272.3 742.8 271.6C743.6 270.9 744.3 270.0 745.1 269.3C745.8 268.6 746.6 268.1 747.4 267.4C748.2 266.7 748.9 265.9 749.7 265.3C750.5 264.7 751.3 264.3 752.1 263.7C752.9 263.2 753.8 262.5 754.6 261.9C755.4 261.3 756.2 260.7 757.1 260.2C757.9 259.6 758.8 259.2 759.6 258.6C760.5 258.1 761.3 257.5 762.2 257.0C763.1 256.5 764.0 256.1 764.8 255.6C765.7 255.1 767.1 254.3 767.5 254.0" stroke="#009999"/>
<path d="M759.6 258.6C760.1 258.4 761.3 257.5 762.2 257.0C763.1 256.5 764.0 256.1 764.8 255.6C765.7 255.1 766.6 254.4 767.5 254.0C768.4 253.6 769.3 253.5 770.2 253.2C771.1 252.9 772.0 252.7 772.9 252.4C773.8 252.1 774.8 251.7 775.7 251.3C776.6 250.9 777.6 250.2 778.5 249.8C779.4 249.4 780.4 249.0 781.3 248.7C782.2 248.4 783.2 248.3 784.1 248.0C785.1 247.7 786.0 247.3 787.0 246.9C787.9 246.5 788.9 246.1 789.9 245.9C790.8 245.6 791.8 245.7 792.7 245.5C793.7 245.3 794.7 245.0 795.6 244.8C796.6 244.6 797.6 244.6 798.6 244.4C799.5 244.1 800.5 243.7 801.5 243.4C802.4 243.1 803.4 242.8 804.4 242.5C805.3 242.2 806.3 241.9 807.3 241.7C808.3 241.4 809.2 241.1 810.2 241.0C811.2 240.9 812.2 241.0 813.1 240.9C814.1 240.8 815.1 240.5 816.1 240.3C817.0 240.2 818.0 240.0 819.0 239.7C820.0 239.5 821.0 239.3 821.9 239.1C822.9 238.8 823.9 238.3 824.9 238.2C825.9 238.0 826.9 238.1 827.8 238.0C828.8 237.9 829.8 237.8 830.8 237.6C831.8 237.4 832.8 237.0 833.8 236.8C834.8 236.6 835.8 236.4 836.7 236.2C837.7 236.0 838.7 235.6 839.7 235.5C840.7 235.3 841.7 235.6 842.7 235.5C843.7 235.4 844.7 235.0 845.7 234.9C846.7 234.7 847.7 234.8 848.7 234.6C849.7 234.5 850.7 234.1 851.7 234.0C852.7 233.9 853.7 233.8 854.7 233.8C855.7 233.9 856.7 234.1 857.6 234.1C858.6 234.2 859.6 234.2 860.6 234.2C861.6 234.3 862.6 234.4 863.6 234.4C864.6 234.4 865.6 234.3 866.6 234.2C867.6 234.1 868.6 234.1 869.6 233.9C870.6 233.6 871.6 233.0 872.6 232.8C873.6 232.6 874.6 232.8 875.6 232.7C876.6 232.6 877.6 232.4 878.6 232.4C879.5 232.3 880.5 232.3 881.5 232.2C882.5 232.2 883.5 232.0 884.5 231.9C885.5 231.8 886.5 231.7 887.5 231.6C888.5 231.5 889.5 231.6 890.5 231.4C891.5 231.3 892.5 231.1 893.5 230.9C894.5 230.7 895.5 230.6 896.5 230.4C897.5 230.2 898.5 230.1 899.5 229.9C900.5 229.7 901.5 229.2 902.5 229.0C903.5 228.8 904.4 228.8 905.4 228.6C906.4 228.4 907.4 228.1 908.4 227.9C909.4 227.7 910.4 227.6 911.4 227.5C912.4 227.4 913.4 227.2 914.4 227.1C915.4 227.1 916.4 227.2 917.4 227.2C918.4 227.2 919.4 227.2 920.4 227.3C921.4 227.4 922.4 227.6 923.4 227.7C924.4 227.8 925.4 227.8 926.4 227.8C927.4 227.9 928.4 228.1 929.4 228.0C930.4 228.0 931.4 227.7 932.4 227.7C933.4 227.6 934.4 227.8 935.4 227.7C936.4 227.6 937.4 227.2 938.4 227.1C939.4 227.0 940.4 227.2 941.4 227.1C942.3 227.1 943.3 226.8 944.3 226.7C945.3 226.6 946.3 226.7 947.3 226.6C948.3 226.6 949.3 226.4 950.3 226.4C951.3 226.4 952.3 226.6 953.3 226.6C954.3 226.6 955.3 226.4 956.3 226.3C957.3 226.1 958.3 225.9 959.3 225.8C960.3 225.7 961.3 225.8 962.3 225.7C963.3 225.7 964.3 225.9 965.3 225.8C966.3 225.7 967.3 225.3 968.3 225.1C969.3 225.0 970.3 224.9 971.3 224.9C972.3 224.9 973.3 225.1 974.3 225.1C975.3 225.1 976.3 224.8 977.3 224.8C978.3 224.9 979.3 225.3 980.3 225.4C981.3 225.4 982.3 225.3 983.3 225.4C984.3 225.4 985.3 225.6 986.3 225.7C987.3 225.7 988.3 225.5 989.3 225.5C990.3 225.4 991.3 225.7 992.3 225.6C993.3 225.5 994.3 225.0 995.3 224.9C996.3 224.7 997.3 224.8 998.3 224.7C999.3 224.5 1000.3 224.1 1001.3 224.1C1002.3 224.1 1003.3 224.5 1004.3 224.7C1005.3 224.8 1006.3 224.9 1007.3 225.0C1008.3 225.2 1009.3 225.5 1010.3 225.6C1011.3 225.6 1012.3 225.5 1013.3 225.3C1014.3 225.0 1015.3 224.5 1016.3 224.2C1017.3 223.9 1018.3 223.7 1019.3 223.6C1020.3 223.5 1021.3 223.5 1022.3 223.6C1023.3 223.7 1024.3 223.8 1025.3 224.0C1026.3 224.2 1027.3 224.6 1028.3 224.8C1029.3 224.9 1030.4 224.9 1031.4 224.9C1032.4 224.9 1033.4 224.8 1034.4 224.8C1035.4 224.7 1036.4 224.5 1037.4 224.4C1038.4 224.3 1039.4 224.2 1040.4 224.3C1041.4 224.3 1042.4 224.6 1043.4 224.9C1044.4 225.1 1045.4 225.5 1046.4 225.7C1047.4 225.8 1048.4 225.8 1049.4 225.8C1050.4 225.7 1051.4 225.6 1052.4 225.5C1053.4 225.4 1054.4 225.1 1055.4 225.2C1056.4 225.2 1057.4 225.6 1058.4 225.6C1059.4 225.7 1060.4 225.4 1061.4 225.4C1062.4 225.3 1063.4 225.5 1064.4 225.4C1065.4 225.3 1066.4 225.0 1067.4 225.0C1068.4 224.9 1069.4 225.0 1070.4 225.0C1071.4 225.0 1072.4 225.0 1073.4 225.0C1074.4 225.0 1075.4 225.2 1076.4 225.2C1077.4 225.2 1078.4 225.0 1079.4 225.1C1080.4 225.2 1081.4 225.6 1082.4 225.7C1083.4 225.8 1084.4 225.7 1085.4 225.8C1086.4 225.9 1087.4 226.3 1088.4 226.5C1089.4 226.6 1090.4 226.6 1091.4 226.7C1092.4 226.8 1093.4 226.8 1094.4 226.8C1095.4 226.8 1096.4 226.7 1097.4 226.6C1098.4 226.6 1099.4 226.7 1100.4 226.8C1101.4 226.8 1102.4 227.0 1103.4 227.1C1104.4 227.2 1105.4 227.2 1106.4 227.2C1107.4 227.2 1108.4 227.1 1109.4 227.2C1110.4 227.3 1111.4 227.8 1112.4 227.8C1113.4 227.9 1114.4 227.5 1115.4 227.6C1116.4 227.7 1117.4 228.2 1118.4 228.3C1119.4 228.4 1120.4 228.2 1121.4 228.3C1122.4 228.4 1123.4 228.6 1124.4 228.8C1125.4 229.0 1126.4 229.3 1127.4 229.4C1128.4 229.5 1129.3 229.4 1130.3 229.4C1131.3 229.5 1132.3 229.8 1133.3 229.9C1134.3 230.0 1135.3 229.9 1136.3 230.0C1137.3 230.1 1138.3 230.6 1139.3 230.7C1140.3 230.8 1141.3 230.6 1142.3 230.6C1143.3 230.6 1144.3 230.5 1145.3 230.4C1146.3 230.3 1147.3 230.1 1148.3 230.1C1149.3 230.2 1150.3 230.4 1151.3 230.5C1152.3 230.6 1153.2 230.9 1154.2 231.0C1155.2 231.1 1156.2 231.2 1157.2 231.3C1158.2 231.4 1159.2 231.6 1160.2 231.7C1161.2 231.9 1162.2 231.8 1163.2 231.9C1164.2 232.1 1165.2 232.4 1166.2 232.6C1167.2 232.9 1168.1 233.0 1169.1 233.3C1170.1 233.5 1171.1 233.8 1172.1 234.0C1173.1 234.2 1174.1 234.4 1175.1 234.5C1176.1 234.6 1177.1 234.7 1178.1 234.7C1179.1 234.8 1180.0 234.8 1181.0 234.9C1182.0 235.0 1183.0 235.1 1184.0 235.2C1185.0 235.4 1186.0 235.8 1187.0 235.9C1188.0 236.1 1189.0 236.1 1189.9 236.3C1190.9 236.5 1191.9 236.9 1192.9 237.2C1193.9 237.5 1194.9 237.8 1195.9 237.9C1196.9 238.1 1197.9 238.2 1198.8 238.3C1199.8 238.3 1200.8 238.2 1201.8 238.2C1202.8 238.2 1203.8 238.1 1204.8 238.3C1205.8 238.4 1206.7 238.7 1207.7 238.9C1208.7 239.1 1209.7 239.3 1210.7 239.4C1211.7 239.6 1212.7 239.7 1213.6 239.8C1214.6 239.8 1215.6 239.8 1216.6 239.9C1217.6 239.9 1218.6 240.1 1219.6 240.2C1220.5 240.3 1221.5 240.2 1222.5 240.3C1223.5 240.4 1224.5 240.8 1225.5 241.0C1226.4 241.3 1227.4 241.5 1228.4 241.8C1229.4 242.2 1230.4 242.7 1231.3 243.0C1232.3 243.3 1233.3 243.6 1234.3 243.7C1235.3 243.8 1236.3 243.7 1237.2 243.7C1238.2 243.8 1239.2 243.8 1240.2 244.0C1241.2 244.2 1242.1 244.8 1243.1 245.0C1244.1 245.3 1245.1 245.3 1246.1 245.5C1247.1 245.7 1248.0 245.9 1249.0 246.0C1250.0 246.1 1251.0 246.1 1252.0 246.2C1252.9 246.4 1253.9 246.7 1254.9 247.1C1255.9 247.5 1256.8 248.0 1257.8 248.4C1258.8 248.8 1259.8 249.2 1260.8 249.5C1261.7 249.9 1262.7 250.2 1263.7 250.5C1264.7 250.8 1265.7 251.0 1266.6 251.1C1267.6 251.2 1268.6 251.1 1269.6 251.2C1270.5 251.3 1271.5 251.6 1272.5 251.7C1273.5 251.9 1274.5 251.9 1275.4 252.1C1276.4 252.3 1277.4 252.7 1278.4 252.9C1279.3 253.2 1280.3 253.4 1281.3 253.7C1282.3 254.0 1283.3 254.5 1284.2 254.7C1285.2 254.9 1286.2 255.0 1287.2 255.1C1288.1 255.2 1289.1 255.3 1290.1 255.5C1291.1 255.8 1292.0 256.3 1293.0 256.7C1294.0 257.1 1295.0 257.5 1296.0 257.8C1296.9 258.1 1297.9 258.2 1298.9 258.3C1299.9 258.4 1300.8 258.4 1301.8 258.5C1302.8 258.5 1303.8 258.5 1304.7 258.7C1305.7 259.0 1306.7 259.6 1307.7 260.0C1308.6 260.4 1309.6 260.7 1310.6 261.0C1311.6 261.3 1312.5 261.4 1313.5 261.5C1314.5 261.7 1315.5 261.7 1316.5 261.8C1317.4 261.9 1318.4 262.0 1319.4 262.2C1320.4 262.4 1321.3 262.8 1322.3 263.0C1323.3 263.2 1324.3 263.2 1325.2 263.4C1326.2 263.6 1327.2 264.1 1328.2 264.4C1329.1 264.6 1330.1 264.7 1331.1 264.8C1332.1 265.0 1333.0 265.1 1334.0 265.3C1335.0 265.6 1336.0 266.1 1336.9 266.3C1337.9 266.5 1338.9 266.4 1339.9 266.5C1340.8 266.7 1341.8 266.8 1342.8 267.0C1343.8 267.2 1344.8 267.4 1345.7 267.7C1346.7 268.0 1347.7 268.7 1348.7 269.0C1349.6 269.3 1350.6 269.4 1351.6 269.6C1352.6 269.9 1353.5 270.4 1354.5 270.7C1355.5 270.9 1356.5 271.0 1357.4 271.2C1358.4 271.3 1359.4 271.2 1360.4 271.4C1361.4 271.6 1362.3 271.9 1363.3 272.2C1364.3 272.5 1365.3 272.9 1366.2 273.2C1367.2 273.5 1368.2 273.7 1369.2 273.9C1370.2 274.2 1371.1 274.6 1372.1 274.7C1373.1 274.9 1374.1 274.7 1375.0 274.9C1376.0 275.0 1377.0 275.3 1378.0 275.5C1379.0 275.7 1379.9 275.7 1380.9 276.0C1381.9 276.3 1382.9 276.9 1383.8 277.2C1384.8 277.5 1385.8 277.7 1386.8 277.8C1387.8 278.0 1388.7 278.0 1389.7 278.1C1390.7 278.1 1391.7 278.1 1392.7 278.2C1393.6 278.3 1394.6 278.4 1395.6 278.6C1396.6 278.8 1397.6 279.1 1398.5 279.2C1399.5 279.4 1400.5 279.4 1401.5 279.5C1402.5 279.7 1403.4 280.1 1404.4 280.2C1405.4 280.4 1406.4 280.4 1407.4 280.6C1408.4 280.8 1409.3 281.0 1410.3 281.2C1411.3 281.4 1412.8 281.7 1413.3 281.8" stroke="#009999" stroke-width="6.75"/>
<path d="M801.5 243.4C801.9 243.2 803.4 242.8 804.4 242.5C805.3 242.2 806.3 241.9 807.3 241.7C808.3 241.4 809.2 241.1 810.2 241.0C811.2 240.9 812.2 241.0 813.1 240.9C814.1 240.8 815.1 240.5 816.1 240.3C817.0 240.2 818.0 240.0 819.0 239.7C820.0 239.5 821.0 239.3 821.9 239.1C822.9 238.8 823.9 238.3 824.9 238.2C825.9 238.0 826.9 238.1 827.8 238.0C828.8 237.9 829.8 237.8 830.8 237.6C831.8 237.4 832.8 237.0 833.8 236.8C834.8 236.6 835.8 236.4 836.7 236.2C837.7 236.0 838.7 235.6 839.7 235.5C840.7 235.3 841.7 235.6 842.7 235.5C843.7 235.4 844.7 235.0 845.7 234.9C846.7 234.7 847.7 234.8 848.7 234.6C849.7 234.5 850.7 234.1 851.7 234.0C852.7 233.9 853.7 233.8 854.7 233.8C855.7 233.9 856.7 234.1 857.6 234.1C858.6 234.2 859.6 234.2 860.6 234.2C861.6 234.3 862.6 234.4 863.6 234.4C864.6 234.4 865.6 234.3 866.6 234.2C867.6 234.1 868.6 234.1 869.6 233.9C870.6 233.6 871.6 233.0 872.6 232.8C873.6 232.6 874.6 232.8 875.6 232.7C876.6 232.6 877.6 232.4 878.6 232.4C879.5 232.3 880.5 232.3 881.5 232.2C882.5 232.2 883.5 232.0 884.5 231.9C885.5 231.8 886.5 231.7 887.5 231.6C888.5 231.5 889.5 231.6 890.5 231.4C891.5 231.3 892.5 231.1 893.5 230.9C894.5 230.7 895.5 230.6 896.5 230.4C897.5 230.2 898.5 230.1 899.5 229.9C900.5 229.7 901.5 229.2 902.5 229.0C903.5 228.8 904.4 228.8 905.4 228.6C906.4 228.4 907.4 228.1 908.4 227.9C909.4 227.7 910.4 227.6 911.4 227.5C912.4 227.4 913.4 227.2 914.4 227.1C915.4 227.1 916.4 227.2 917.4 227.2C918.4 227.2 919.4 227.2 920.4 227.3C921.4 227.4 922.4 227.6 923.4 227.7C924.4 227.8 925.4 227.8 926.4 227.8C927.4 227.9 928.4 228.1 929.4 228.0C930.4 228.0 931.4 227.7 932.4 227.7C933.4 227.6 934.4 227.8 935.4 227.7C936.4 227.6 937.4 227.2 938.4 227.1C939.4 227.0 940.4 227.2 941.4 227.1C942.3 227.1 943.3 226.8 944.3 226.7C945.3 226.6 946.3 226.7 947.3 226.6C948.3 226.6 949.3 226.4 950.3 226.4C951.3 226.4 952.3 226.6 953.3 226.6C954.3 226.6 955.3 226.4 956.3 226.3C957.3 226.1 958.3 225.9 959.3 225.8C960.3 225.7 961.3 225.8 962.3 225.7C963.3 225.7 964.3 225.9 965.3 225.8C966.3 225.7 967.3 225.3 968.3 225.1C969.3 225.0 970.3 224.9 971.3 224.9C972.3 224.9 973.3 225.1 974.3 225.1C975.3 225.1 976.3 224.8 977.3 224.8C978.3 224.9 979.3 225.3 980.3 225.4C981.3 225.4 982.3 225.3 983.3 225.4C984.3 225.4 985.3 225.6 986.3 225.7C987.3 225.7 988.3 225.5 989.3 225.5C990.3 225.4 991.3 225.7 992.3 225.6C993.3 225.5 994.3 225.0 995.3 224.9C996.3 224.7 997.3 224.8 998.3 224.7C999.3 224.5 1000.3 224.1 1001.3 224.1C1002.3 224.1 1003.3 224.5 1004.3 224.7C1005.3 224.8 1006.3 224.9 1007.3 225.0C1008.3 225.2 1009.3 225.5 1010.3 225.6C1011.3 225.6 1012.3 225.5 1013.3 225.3C1014.3 225.0 1015.3 224.5 1016.3 224.2C1017.3 223.9 1018.3 223.7 1019.3 223.6C1020.3 223.5 1021.3 223.5 1022.3 223.6C1023.3 223.7 1024.3 223.8 1025.3 224.0C1026.3 224.2 1027.3 224.6 1028.3 224.8C1029.3 224.9 1030.4 224.9 1031.4 224.9C1032.4 224.9 1033.4 224.8 1034.4 224.8C1035.4 224.7 1036.4 224.5 1037.4 224.4C1038.4 224.3 1039.4 224.2 1040.4 224.3C1041.4 224.3 1042.4 224.6 1043.4 224.9C1044.4 225.1 1045.4 225.5 1046.4 225.7C1047.4 225.8 1048.4 225.8 1049.4 225.8C1050.4 225.7 1051.4 225.6 1052.4 225.5C1053.4 225.4 1054.4 225.1 1055.4 225.2C1056.4 225.2 1057.4 225.6 1058.4 225.6C1059.4 225.7 1060.4 225.4 1061.4 225.4C1062.4 225.3 1063.4 225.5 1064.4 225.4C1065.4 225.3 1066.4 225.0 1067.4 225.0C1068.4 224.9 1069.4 225.0 1070.4 225.0C1071.4 225.0 1072.4 225.0 1073.4 225.0C1074.4 225.0 1075.4 225.2 1076.4 225.2C1077.4 225.2 1078.4 225.0 1079.4 225.1C1080.4 225.2 1081.4 225.6 1082.4 225.7C1083.4 225.8 1084.4 225.7 1085.4 225.8C1086.4 225.9 1087.4 226.3 1088.4 226.5C1089.4 226.6 1090.4 226.6 1091.4 226.7C1092.4 226.8 1093.4 226.8 1094.4 226.8C1095.4 226.8 1096.4 226.7 1097.4 226.6C1098.4 226.6 1099.4 226.7 1100.4 226.8C1101.4 226.8 1102.4 227.0 1103.4 227.1C1104.4 227.2 1105.4 227.2 1106.4 227.2C1107.4 227.2 1108.4 227.1 1109.4 227.2C1110.4 227.3 1111.4 227.8 1112.4 227.8C1113.4 227.9 1114.4 227.5 1115.4 227.6C1116.4 227.7 1117.4 228.2 1118.4 228.3C1119.4 228.4 1120.4 228.2 1121.4 228.3C1122.4 228.4 1123.4 228.6 1124.4 228.8C1125.4 229.0 1126.4 229.3 1127.4 229.4C1128.4 229.5 1129.3 229.4 1130.3 229.4C1131.3 229.5 1132.3 229.8 1133.3 229.9C1134.3 230.0 1135.3 229.9 1136.3 230.0C1137.3 230.1 1138.3 230.6 1139.3 230.7C1140.3 230.8 1141.3 230.6 1142.3 230.6C1143.3 230.6 1144.3 230.5 1145.3 230.4C1146.3 230.3 1147.3 230.1 1148.3 230.1C1149.3 230.2 1150.3 230.4 1151.3 230.5C1152.3 230.6 1153.2 230.9 1154.2 231.0C1155.2 231.1 1156.2 231.2 1157.2 231.3C1158.2 231.4 1159.2 231.6 1160.2 231.7C1161.2 231.9 1162.2 231.8 1163.2 231.9C1164.2 232.1 1165.2 232.4 1166.2 232.6C1167.2 232.9 1168.1 233.0 1169.1 233.3C1170.1 233.5 1171.1 233.8 1172.1 234.0C1173.1 234.2 1174.1 234.4 1175.1 234.5C1176.1 234.6 1177.1 234.7 1178.1 234.7C1179.1 234.8 1180.0 234.8 1181.0 234.9C1182.0 235.0 1183.0 235.1 1184.0 235.2C1185.0 235.4 1186.0 235.8 1187.0 235.9C1188.0 236.1 1189.0 236.1 1189.9 236.3C1190.9 236.5 1191.9 236.9 1192.9 237.2C1193.9 237.5 1194.9 237.8 1195.9 237.9C1196.9 238.1 1197.9 238.2 1198.8 238.3C1199.8 238.3 1200.8 238.2 1201.8 238.2C1202.8 238.2 1203.8 238.1 1204.8 238.3C1205.8 238.4 1206.7 238.7 1207.7 238.9C1208.7 239.1 1209.7 239.3 1210.7 239.4C1211.7 239.6 1212.7 239.7 1213.6 239.8C1214.6 239.8 1215.6 239.8 1216.6 239.9C1217.6 239.9 1218.6 240.1 1219.6 240.2C1220.5 240.3 1221.5 240.2 1222.5 240.3C1223.5 240.4 1224.5 240.8 1225.5 241.0C1226.4 241.3 1227.4 241.5 1228.4 241.8C1229.4 242.2 1230.4 242.7 1231.3 243.0C1232.3 243.3 1233.3 243.6 1234.3 243.7C1235.3 243.8 1236.3 243.7 1237.2 243.7C1238.2 243.8 1239.2 243.8 1240.2 244.0C1241.2 244.2 1242.1 244.8 1243.1 245.0C1244.1 245.3 1245.1 245.3 1246.1 245.5C1247.1 245.7 1248.0 245.9 1249.0 246.0C1250.0 246.1 1251.0 246.1 1252.0 246.2C1252.9 246.4 1253.9 246.7 1254.9 247.1C1255.9 247.5 1256.8 248.0 1257.8 248.4C1258.8 248.8 1259.8 249.2 1260.8 249.5C1261.7 249.9 1262.7 250.2 1263.7 250.5C1264.7 250.8 1265.7 251.0 1266.6 251.1C1267.6 251.2 1268.6 251.1 1269.6 251.2C1270.5 251.3 1271.5 251.6 1272.5 251.7C1273.5 251.9 1274.5 251.9 1275.4 252.1C1276.4 252.3 1277.4 252.7 1278.4 252.9C1279.3 253.2 1280.3 253.4 1281.3 253.7C1282.3 254.0 1283.3 254.5 1284.2 254.7C1285.2 254.9 1286.2 255.0 1287.2 255.1C1288.1 255.2 1289.1 255.3 1290.1 255.5C1291.1 255.8 1292.0 256.3 1293.0 256.7C1294.0 257.1 1295.0 257.5 1296.0 257.8C1296.9 258.1 1297.9 258.2 1298.9 258.3C1299.9 258.4 1300.8 258.4 1301.8 258.5C1302.8 258.5 1303.8 258.5 1304.7 258.7C1305.7 259.0 1306.7 259.6 1307.7 260.0C1308.6 260.4 1309.6 260.7 1310.6 261.0C1311.6 261.3 1312.5 261.4 1313.5 261.5C1314.5 261.7 1315.5 261.7 1316.5 261.8C1317.4 261.9 1318.4 262.0 1319.4 262.2C1320.4 262.4 1321.3 262.8 1322.3 263.0C1323.3 263.2 1324.3 263.2 1325.2 263.4C1326.2 263.6 1327.2 264.1 1328.2 264.4C1329.1 264.6 1330.1 264.7 1331.1 264.8C1332.1 265.0 1333.0 265.1 1334.0 265.3C1335.0 265.6 1336.0 266.1 1336.9 266.3C1337.9 266.5 1338.9 266.4 1339.9 266.5C1340.8 266.7 1341.8 266.8 1342.8 267.0C1343.8 267.2 1344.8 267.4 1345.7 267.7C1346.7 268.0 1347.7 268.7 1348.7 269.0C1349.6 269.3 1350.6 269.4 1351.6 269.6C1352.6 269.9 1353.5 270.4 1354.5 270.7C1355.5 270.9 1356.5 271.0 1357.4 271.2C1358.4 271.3 1359.4 271.2 1360.4 271.4C1361.4 271.6 1362.3 271.9 1363.3 272.2C1364.3 272.5 1365.3 272.9 1366.2 273.2C1367.2 273.5 1368.2 273.7 1369.2 273.9C1370.2 274.2 1371.1 274.6 1372.1 274.7C1373.1 274.9 1374.1 274.7 1375.0 274.9C1376.0 275.0 1377.0 275.3 1378.0 275.5C1379.0 275.7 1379.9 275.7 1380.9 276.0C1381.9 276.3 1382.9 276.9 1383.8 277.2C1384.8 277.5 1385.8 277.7 1386.8 277.8C1387.8 278.0 1388.7 278.0 1389.7 278.1C1390.7 278.1 1391.7 278.1 1392.7 278.2C1393.6 278.3 1394.6 278.4 1395.6 278.6C1396.6 278.8 1397.6 279.1 1398.5 279.2C1399.5 279.4 1400.5 279.4 1401.5 279.5C1402.5 279.7 1403.4 280.1 1404.4 280.2C1405.4 280.4 1406.4 280.4 1407.4 280.6C1408.4 280.8 1409.3 281.0 1410.3 281.2C1411.3 281.4 1412.8 281.7 1413.3 281.8" stroke="#009999" stroke-width="7.2"/>
<path d="M259.7 228.4C260.0 228.0 261.1 227.0 261.8 226.3C262.5 225.6 263.2 225.0 263.9 224.4C264.6 223.7 265.4 223.1 266.1 222.5C266.9 221.9 267.7 221.4 268.5 220.9C269.3 220.3 270.1 219.6 271.0 219.1C271.8 218.5 272.7 218.0 273.6 217.5C274.5 216.9 275.4 216.3 276.3 215.8C277.2 215.3 278.1 214.9 279.1 214.5C280.0 214.2 280.9 213.9 281.9 213.6C282.9 213.3 283.8 213.0 284.8 212.7C285.8 212.5 286.8 212.2 287.8 212.0C288.8 211.8 289.8 211.8 290.8 211.7C291.8 211.6 292.8 211.3 293.8 211.2C294.8 211.2 295.8 211.2 296.8 211.2C297.8 211.2 298.8 211.1 299.9 211.2C300.9 211.2 301.9 211.3 302.9 211.3C303.9 211.4 304.9 211.3 305.9 211.4C306.8 211.4 307.8 211.5 308.8 211.6C309.8 211.7 310.8 211.8 311.7 212.0C312.7 212.1 313.7 212.3 314.6 212.6C315.6 212.9 316.5 213.3 317.5 213.7C318.4 214.0 319.4 214.2 320.3 214.6C321.3 215.0 322.2 215.5 323.1 215.8C324.0 216.2 325.0 216.4 325.9 216.7C326.8 217.1 327.7 217.5 328.6 217.9C329.5 218.3 330.4 218.6 331.3 219.0C332.2 219.5 333.1 220.1 334.0 220.6C334.9 221.1 335.8 221.5 336.6 222.0C337.5 222.4 338.4 223.0 339.3 223.5C340.1 224.0 341.0 224.4 341.8 224.9C342.7 225.5 343.5 226.0 344.4 226.6C345.2 227.2 346.1 227.8 346.9 228.4C347.7 229.0 348.5 229.5 349.3 230.1C350.1 230.6 351.3 231.4 351.7 231.7" stroke="#009999" stroke-width="6.65"/>
<path d="M273.6 217.5C274.0 217.2 275.4 216.3 276.3 215.8C277.2 215.3 278.1 214.9 279.1 214.5C280.0 214.2 280.9 213.9 281.9 213.6C282.9 213.3 283.8 213.0 284.8 212.7C285.8 212.5 286.8 212.2 287.8 212.0C288.8 211.8 289.8 211.8 290.8 211.7C291.8 211.6 292.8 211.3 293.8 211.2C294.8 211.2 295.8 211.2 296.8 211.2C297.8 211.2 298.8 211.1 299.9 211.2C300.9 211.2 301.9 211.3 302.9 211.3C303.9 211.4 304.9 211.3 305.9 211.4C306.8 211.4 307.8 211.5 308.8 211.6C309.8 211.7 310.8 211.8 311.7 212.0C312.7 212.1 313.7 212.3 314.6 212.6C315.6 212.9 316.5 213.3 317.5 213.7C318.4 214.0 319.4 214.2 320.3 214.6C321.3 215.0 322.2 215.5 323.1 215.8C324.0 216.2 325.0 216.4 325.9 216.7C326.8 217.1 327.7 217.5 328.6 217.9C329.5 218.3 330.4 218.6 331.3 219.0C332.2 219.5 333.1 220.1 334.0 220.6C334.9 221.1 335.8 221.5 336.6 222.0C337.5 222.4 338.8 223.2 339.3 223.5" stroke="#009999" stroke-width="7.0"/>
</g>
<path d="M170.1 103.5C170.9 103.6 173.3 103.8 175.0 104.1C176.6 104.3 178.2 104.6 179.8 104.9C181.4 105.2 183.0 105.6 184.6 106.0C186.2 106.4 187.8 106.8 189.3 107.3C190.9 107.8 192.5 108.3 194.1 108.8C195.6 109.3 197.2 109.9 198.8 110.4C200.3 111.0 201.9 111.6 203.4 112.1C205.0 112.7 206.6 113.3 208.1 113.9C209.7 114.5 211.2 115.1 212.8 115.7C214.4 116.3 215.9 116.9 217.5 117.5C219.0 118.0 220.6 118.6 222.2 119.1C223.7 119.7 225.3 120.2 226.9 120.8C228.4 121.3 230.0 121.8 231.6 122.3C233.2 122.8 234.7 123.3 236.3 123.7C237.9 124.2 239.5 124.6 241.1 125.1C242.7 125.5 244.3 125.9 245.9 126.3C247.5 126.8 249.1 127.1 250.7 127.5C252.3 127.9 253.9 128.3 255.5 128.6C257.1 129.0 258.7 129.3 260.3 129.6C262.0 129.9 263.6 130.2 265.2 130.5C266.8 130.8 268.5 131.1 270.1 131.3C271.8 131.6 273.4 131.8 275.1 132.0C276.7 132.2 278.4 132.4 280.0 132.6C281.7 132.8 283.3 133.0 285.0 133.1C286.7 133.3 288.4 133.4 290.0 133.6C291.7 133.7 293.4 133.8 295.1 133.9C296.8 134.1 298.4 134.2 300.1 134.3C301.8 134.4 303.5 134.5 305.2 134.6C306.9 134.7 308.6 134.8 310.3 134.8C312.0 134.9 313.7 135.0 315.3 135.1C317.0 135.2 318.7 135.3 320.4 135.4C322.1 135.5 323.8 135.6 325.5 135.7C327.2 135.8 328.8 136.0 330.5 136.1C332.2 136.2 333.9 136.4 335.6 136.5C337.2 136.7 338.9 136.8 340.6 137.0C342.2 137.2 343.9 137.4 345.5 137.6C347.2 137.8 348.9 138.0 350.5 138.3C352.1 138.5 353.8 138.8 355.4 139.1C357.0 139.4 358.7 139.7 360.3 140.0C361.9 140.4 363.5 140.7 365.1 141.1C366.7 141.5 368.3 141.9 369.9 142.4C371.4 142.8 373.0 143.3 374.6 143.8C376.1 144.3 377.7 144.9 379.2 145.5C380.8 146.0 382.3 146.7 383.8 147.3C385.3 147.9 386.8 148.6 388.3 149.3C389.8 150.0 391.3 150.8 392.8 151.6C394.2 152.3 395.7 153.1 397.1 154.0C398.6 154.8 400.0 155.6 401.4 156.5C402.8 157.4 404.2 158.3 405.6 159.3C407.0 160.2 408.4 161.2 409.7 162.2C411.1 163.1 412.4 164.2 413.7 165.2C415.1 166.2 416.4 167.3 417.7 168.4C418.9 169.5 420.2 170.6 421.5 171.7C422.7 172.8 424.0 173.9 425.2 175.1C426.4 176.3 427.6 177.5 428.8 178.7C430.0 179.9 431.1 181.1 432.3 182.3C433.4 183.5 434.5 184.8 435.6 186.1C436.7 187.3 437.8 188.6 438.9 189.9C439.9 191.2 441.0 192.5 442.0 193.8C443.0 195.1 444.0 196.5 445.0 197.8C446.0 199.2 447.0 200.5 447.9 201.9C448.9 203.3 449.8 204.7 450.7 206.1C451.6 207.5 452.5 208.9 453.4 210.3C454.3 211.7 455.2 213.1 456.0 214.6C456.9 216.0 457.7 217.5 458.5 218.9C459.4 220.4 460.2 221.8 461.0 223.3C461.8 224.8 462.5 226.2 463.3 227.7C464.1 229.2 464.8 230.7 465.6 232.2C466.3 233.7 467.1 235.2 467.8 236.7C468.5 238.2 469.2 239.7 469.9 241.3C470.6 242.8 471.3 244.3 472.0 245.8C472.7 247.4 473.3 248.9 474.0 250.4C474.6 252.0 475.3 253.5 475.9 255.1C476.6 256.6 477.2 258.1 477.8 259.7C478.5 261.2 479.1 262.8 479.7 264.3C480.3 265.9 480.9 267.4 481.5 269.0C482.1 270.6 482.7 272.1 483.3 273.7C483.9 275.3 484.4 276.8 485.0 278.4C485.6 280.0 486.1 281.5 486.7 283.1C487.2 284.7 487.8 286.2 488.3 287.8C488.9 289.4 489.4 291.0 489.9 292.6C490.4 294.1 491.0 295.7 491.5 297.3C492.0 298.9 492.5 300.5 493.0 302.1C493.5 303.7 494.0 305.3 494.5 306.8C495.0 308.4 495.5 310.0 496.0 311.6C496.5 313.2 496.9 314.8 497.4 316.4C497.9 318.0 498.4 319.6 498.8 321.2C499.3 322.8 499.8 324.4 500.2 326.0C500.7 327.6 501.1 329.2 501.6 330.8C502.0 332.5 502.5 334.1 502.9 335.7C503.4 337.3 503.8 338.9 504.3 340.5C504.7 342.1 505.1 343.7 505.6 345.3C506.0 346.9 506.4 348.5 506.9 350.2C507.3 351.8 507.7 353.4 508.2 355.0C508.6 356.6 509.0 358.2 509.4 359.8C509.9 361.5 510.3 363.1 510.7 364.7C511.1 366.3 511.5 367.9 512.0 369.5C512.4 371.1 512.8 372.8 513.2 374.4C513.6 376.0 514.0 377.6 514.5 379.2C514.9 380.8 515.3 382.5 515.7 384.1C516.1 385.7 516.5 387.3 517.0 388.9C517.4 390.5 517.8 392.1 518.2 393.8C518.6 395.4 519.1 397.0 519.5 398.6C519.9 400.2 520.3 401.8 520.7 403.4C521.2 405.0 521.6 406.6 522.0 408.3C522.5 409.9 522.9 411.5 523.3 413.1C523.7 414.7 524.2 416.3 524.6 417.9C525.0 419.5 525.5 421.1 525.9 422.7C526.4 424.3 526.8 425.9 527.2 427.5C527.7 429.1 528.1 430.7 528.6 432.3C529.0 433.9 529.4 435.5 529.9 437.1C530.3 438.7 530.8 440.3 531.2 441.9C531.7 443.5 532.1 445.1 532.6 446.7C533.0 448.3 533.5 449.9 533.9 451.6C534.4 453.2 534.8 454.8 535.3 456.4C535.7 458.0 536.2 459.6 536.6 461.2C537.1 462.8 537.5 464.4 538.0 466.0C538.4 467.6 538.9 469.2 539.3 470.8C539.8 472.4 540.2 474.0 540.7 475.6C541.1 477.2 541.6 478.8 542.0 480.5C542.5 482.1 542.9 483.7 543.4 485.3C543.8 486.9 544.2 488.5 544.7 490.1C545.1 491.7 545.6 493.4 546.0 495.0C546.5 496.6 546.9 498.2 547.4 499.8C547.8 501.5 548.2 503.1 548.7 504.7C549.1 506.3 549.6 508.0 550.0 509.6C550.4 511.2 550.9 512.8 551.3 514.5C551.7 516.1 552.2 517.7 552.6 519.3C553.1 521.0 553.5 522.6 554.0 524.2C554.4 525.8 554.9 527.5 555.3 529.1C555.8 530.7 556.2 532.3 556.7 534.0C557.2 535.6 557.7 537.2 558.1 538.8C558.6 540.4 559.1 542.0 559.6 543.6C560.1 545.2 560.6 546.8 561.1 548.4C561.6 550.0 562.1 551.6 562.6 553.2C563.1 554.8 563.7 556.3 564.2 557.9C564.8 559.5 565.3 561.1 565.9 562.6C566.4 564.2 567.0 565.7 567.6 567.3C568.2 568.9 568.8 570.4 569.4 571.9C570.0 573.5 570.6 575.0 571.2 576.6C571.8 578.1 572.4 579.6 573.1 581.1C573.7 582.7 574.3 584.2 575.0 585.7C575.6 587.2 576.3 588.7 576.9 590.2C577.6 591.8 578.3 593.3 578.9 594.8C579.6 596.3 580.3 597.8 581.0 599.3C581.7 600.8 582.4 602.2 583.1 603.7C583.8 605.2 584.5 606.7 585.2 608.2C585.9 609.7 586.6 611.2 587.4 612.7C588.1 614.1 588.8 615.6 589.5 617.1C590.3 618.6 591.0 620.1 591.8 621.5C592.5 623.0 593.2 624.5 594.0 626.0C594.7 627.4 595.5 628.9 596.3 630.4C597.0 631.9 597.8 633.3 598.5 634.8C599.3 636.3 600.1 637.8 600.8 639.2C601.6 640.7 602.4 642.2 603.1 643.7C603.9 645.1 604.7 646.6 605.5 648.1C606.2 649.6 607.0 651.0 607.8 652.5C608.6 654.0 609.4 655.5 610.1 657.0C610.9 658.5 611.7 659.9 612.5 661.4C613.3 662.9 614.1 664.4 614.8 665.9C615.6 667.4 616.4 668.9 617.2 670.4C618.0 671.9 618.8 673.4 619.5 674.9C620.3 676.4 621.1 677.9 621.9 679.4C622.7 680.9 623.4 682.4 624.2 683.9C625.0 685.4 625.8 686.9 626.6 688.4C627.3 689.9 628.1 691.4 628.9 693.0C629.7 694.5 630.5 696.0 631.3 697.5C632.1 699.0 632.9 700.5 633.7 702.0C634.5 703.5 635.4 704.9 636.2 706.4C637.0 707.9 637.9 709.4 638.7 710.8C639.6 712.3 640.4 713.8 641.3 715.2C642.1 716.6 643.0 718.1 643.9 719.5C644.8 720.9 645.7 722.3 646.6 723.7C647.6 725.1 648.5 726.5 649.4 727.9C650.4 729.3 651.4 730.6 652.4 732.0C653.3 733.3 654.3 734.6 655.4 735.9C656.4 737.2 657.4 738.5 658.5 739.8C659.5 741.1 660.6 742.3 661.7 743.6C662.8 744.8 663.9 746.0 665.0 747.2C666.1 748.4 667.3 749.6 668.4 750.8C669.6 751.9 670.8 753.1 672.0 754.2C673.1 755.4 674.4 756.5 675.6 757.6C676.8 758.7 678.0 759.8 679.3 760.9C680.5 762.0 681.8 763.0 683.0 764.1C684.3 765.1 685.6 766.1 686.9 767.1C688.2 768.2 689.5 769.2 690.8 770.1C692.2 771.1 693.5 772.1 694.9 773.1C696.2 774.0 697.6 775.0 698.9 775.9C700.3 776.8 701.7 777.7 703.1 778.6C704.5 779.5 705.9 780.4 707.3 781.3C708.7 782.2 710.1 783.0 711.6 783.9C713.0 784.7 714.4 785.6 715.9 786.4C717.3 787.2 718.8 788.0 720.3 788.8C721.7 789.6 723.2 790.4 724.7 791.2C726.2 791.9 727.7 792.7 729.2 793.4C730.7 794.2 732.2 794.9 733.7 795.7C735.2 796.4 736.7 797.1 738.2 797.8C739.7 798.5 741.3 799.2 742.8 799.9C744.3 800.5 745.9 801.2 747.4 801.9C749.0 802.5 750.5 803.2 752.1 803.8C753.6 804.4 755.2 805.1 756.7 805.7C758.3 806.3 759.8 806.9 761.4 807.5C763.0 808.1 764.5 808.7 766.1 809.2C767.7 809.8 769.3 810.4 770.8 810.9C772.4 811.5 774.0 812.0 775.6 812.6C777.1 813.1 778.7 813.6 780.3 814.1C781.9 814.7 783.5 815.2 785.1 815.7C786.6 816.2 788.2 816.7 789.8 817.2C791.4 817.6 793.0 818.1 794.6 818.6C796.2 819.1 797.8 819.5 799.4 820.0C801.0 820.4 802.6 820.9 804.2 821.3C805.8 821.7 807.4 822.2 809.0 822.6C810.6 823.0 812.2 823.4 813.9 823.8C815.5 824.2 817.1 824.6 818.7 825.0C820.3 825.4 821.9 825.8 823.5 826.2C825.2 826.6 826.8 827.0 828.4 827.3C830.0 827.7 831.6 828.1 833.3 828.4C834.9 828.8 836.5 829.1 838.1 829.5C839.8 829.8 841.4 830.2 843.0 830.5C844.7 830.8 846.3 831.2 847.9 831.5C849.6 831.8 851.2 832.1 852.8 832.4C854.5 832.8 856.1 833.1 857.7 833.4C859.4 833.7 861.0 834.0 862.6 834.3C864.3 834.6 865.9 834.9 867.6 835.2C869.2 835.5 870.8 835.7 872.5 836.0C874.1 836.3 875.8 836.6 877.4 836.9C879.1 837.1 880.7 837.4 882.4 837.7C884.0 838.0 885.7 838.2 887.3 838.5C888.9 838.7 890.6 839.0 892.2 839.3C893.9 839.5 895.5 839.8 897.2 840.0C898.8 840.3 900.5 840.5 902.1 840.8C903.8 841.0 905.4 841.3 907.1 841.5C908.8 841.8 910.4 842.0 912.1 842.3C913.7 842.5 915.4 842.8 917.0 843.0C918.7 843.2 920.3 843.5 922.0 843.7C923.6 844.0 925.3 844.2 926.9 844.4C928.6 844.7 930.2 844.9 931.9 845.1C933.6 845.4 935.2 845.6 936.9 845.9C938.5 846.1 940.2 846.3 941.8 846.6C943.5 846.8 945.1 847.0 946.8 847.3C948.5 847.5 950.1 847.7 951.8 848.0C953.4 848.2 955.1 848.4 956.7 848.6C958.4 848.9 960.0 849.1 961.7 849.3C963.4 849.6 965.0 849.8 966.7 850.0C968.3 850.3 970.0 850.5 971.6 850.7C973.3 851.0 975.0 851.2 976.6 851.4C978.3 851.6 979.9 851.9 981.6 852.1C983.2 852.3 984.9 852.6 986.6 852.8C988.2 853.0 989.9 853.2 991.5 853.5C993.2 853.7 994.8 853.9 996.5 854.2C998.2 854.4 999.8 854.6 1001.5 854.9C1003.1 855.1 1004.8 855.3 1006.4 855.5C1008.1 855.8 1009.7 856.0 1011.4 856.2C1013.1 856.5 1014.7 856.7 1016.4 856.9C1018.0 857.2 1019.7 857.4 1021.3 857.6C1023.0 857.9 1024.7 858.1 1026.3 858.3C1028.0 858.6 1029.6 858.8 1031.3 859.0C1032.9 859.3 1034.6 859.5 1036.2 859.7C1037.9 860.0 1039.6 860.2 1041.2 860.4C1042.9 860.7 1044.5 860.9 1046.2 861.2C1047.8 861.4 1049.5 861.6 1051.1 861.9C1052.8 862.1 1054.5 862.4 1056.1 862.6C1057.8 862.8 1059.4 863.1 1061.1 863.3C1062.7 863.6 1064.4 863.8 1066.0 864.1C1067.7 864.3 1069.3 864.5 1071.0 864.8C1072.6 865.0 1074.3 865.3 1075.9 865.5C1077.6 865.8 1079.2 866.0 1080.9 866.3C1082.6 866.5 1084.2 866.8 1085.9 867.1C1087.5 867.3 1089.2 867.6 1090.8 867.8C1092.5 868.1 1094.1 868.3 1095.8 868.6C1097.4 868.8 1099.1 869.1 1100.7 869.4C1102.4 869.6 1104.0 869.9 1105.7 870.2C1107.3 870.4 1108.9 870.7 1110.6 871.0C1112.2 871.2 1113.9 871.5 1115.5 871.8C1117.2 872.0 1118.8 872.3 1120.5 872.6C1122.1 872.9 1123.8 873.1 1125.4 873.4C1127.1 873.7 1128.7 874.0 1130.3 874.2C1132.0 874.5 1133.6 874.8 1135.3 875.1C1136.9 875.4 1138.6 875.7 1140.2 876.0C1141.9 876.2 1143.5 876.5 1145.1 876.8C1146.8 877.1 1148.4 877.4 1150.1 877.7C1151.7 878.0 1153.3 878.3 1155.0 878.6C1156.6 878.9 1158.3 879.2 1159.9 879.5C1161.5 879.8 1163.2 880.1 1164.8 880.4C1166.5 880.7 1168.1 881.0 1169.7 881.4C1171.4 881.7 1173.0 882.0 1174.6 882.3C1176.3 882.6 1177.9 882.9 1179.5 883.3C1181.2 883.6 1182.8 883.9 1184.4 884.2C1186.1 884.6 1187.7 884.9 1189.3 885.2C1191.0 885.6 1192.6 885.9 1194.2 886.2C1195.9 886.6 1197.5 886.9 1199.1 887.2C1200.8 887.6 1202.4 887.9 1204.0 888.3C1205.6 888.6 1207.3 889.0 1208.9 889.3C1210.5 889.7 1212.1 890.0 1213.8 890.4C1215.4 890.8 1217.0 891.1 1218.6 891.5C1220.3 891.8 1221.9 892.2 1223.5 892.6C1225.1 892.9 1226.8 893.3 1228.4 893.7C1230.0 894.1 1231.6 894.5 1233.2 894.8C1234.9 895.2 1236.5 895.6 1238.1 896.0C1239.7 896.4 1241.3 896.8 1242.9 897.2C1244.6 897.6 1246.2 897.9 1247.8 898.3C1249.4 898.7 1251.0 899.2 1252.6 899.6C1254.2 900.0 1255.9 900.4 1257.5 900.8C1259.1 901.2 1260.7 901.6 1262.3 902.0C1263.9 902.5 1265.5 902.9 1267.1 903.3C1268.7 903.7 1270.3 904.2 1271.9 904.6C1273.6 905.0 1275.2 905.5 1276.8 905.9C1278.4 906.3 1280.0 906.8 1281.6 907.2C1283.2 907.7 1284.8 908.1 1286.4 908.6C1288.0 909.1 1289.6 909.5 1291.2 910.0C1292.8 910.4 1294.4 910.9 1296.0 911.4C1297.6 911.8 1299.2 912.3 1300.8 912.8C1302.4 913.3 1304.0 913.8 1305.5 914.2C1307.1 914.7 1308.7 915.2 1310.3 915.7C1311.9 916.2 1313.5 916.7 1315.1 917.2C1316.7 917.7 1318.3 918.2 1319.9 918.7C1321.4 919.2 1323.0 919.7 1324.6 920.3C1326.2 920.8 1327.8 921.3 1329.4 921.8C1331.0 922.4 1332.5 922.9 1334.1 923.4C1335.7 924.0 1337.3 924.5 1338.9 925.0C1340.4 925.6 1342.0 926.1 1343.6 926.7C1345.2 927.2 1346.7 927.8 1348.3 928.4C1349.9 928.9 1351.5 929.5 1353.0 930.0C1354.6 930.6 1356.2 931.2 1357.7 931.8C1359.3 932.4 1360.9 932.9 1362.5 933.5C1364.0 934.1 1365.6 934.7 1367.1 935.3C1368.7 935.9 1370.3 936.5 1371.8 937.1C1373.4 937.7 1375.0 938.3 1376.5 938.9C1378.1 939.6 1379.6 940.2 1381.2 940.8C1382.8 941.4 1384.3 942.1 1385.9 942.7C1387.4 943.3 1389.0 944.0 1390.5 944.6C1392.1 945.3 1393.6 945.9 1395.2 946.6C1396.7 947.2 1398.3 947.9 1399.8 948.6C1401.4 949.2 1402.9 949.9 1404.5 950.6C1406.0 951.3 1407.6 952.0 1409.1 952.6C1410.6 953.3 1413.0 954.4 1413.7 954.7" fill="none" stroke="#0072bd" stroke-width="6.5" stroke-linejoin="round"/>
<line x1="1184" y1="103.8" x2="1284" y2="103.8" stroke="#0072bd" stroke-width="7" stroke-linecap="round"/>
<line x1="1178.5" y1="170.5" x2="1277.5" y2="170.5" stroke="#009999" stroke-width="7" stroke-linecap="round"/>
<text class="tl" transform="translate(90.5 1018.2) scale(0.9050 1)" font-size="54.0"><tspan class="hv">1</tspan>0</text>
<text class="tl" transform="translate(90.5 921.2) scale(0.9050 1)" font-size="54.0"><tspan class="hv">2</tspan>0</text>
<text class="tl" transform="translate(90.5 818.6) scale(0.9050 1)" font-size="54.0"><tspan class="hv">3</tspan>0</text>
<text class="tl" transform="translate(90.5 720.1) scale(0.9050 1)" font-size="54.0"><tspan class="hv">4</tspan>0</text>
<text class="tl" transform="translate(90.5 622.5) scale(0.9050 1)" font-size="54.0"><tspan class="hv">5</tspan>0</text>
<text class="tl" transform="translate(90.5 520.2) scale(0.9050 1)" font-size="54.0">60</text>
<text class="tl" transform="translate(90.5 421.6) scale(0.9050 1)" font-size="54.0">70</text>
<text class="tl" transform="translate(90.5 324.4) scale(0.9050 1)" font-size="54.0"><tspan class="hv">8</tspan>0</text>
<text class="tl" transform="translate(90.5 222.4) scale(0.9050 1)" font-size="54.0">90</text>
<text class="tl" transform="translate(60.1 123.9) scale(0.9800 1)" font-size="54.0">100</text>
<text class="tl" transform="translate(1442.5 74.7) scale(0.9050 1)" font-size="54.0" letter-spacing="2.65">0.<tspan class="hv">1</tspan></text>
<text class="tl" transform="translate(1442.5 214.6) scale(0.9050 1)" font-size="54.0" letter-spacing="2.65">0.0</text>
<text class="tl" transform="translate(1442.5 358.0) scale(0.9050 1)" font-size="54.0" letter-spacing="2.65"><tspan class="hy" dy="1.5">-</tspan><tspan dy="-1.5">0</tspan>.<tspan class="hv">1</tspan></text>
<text class="tl" transform="translate(1442.5 497.8) scale(0.9050 1)" font-size="54.0" letter-spacing="2.65"><tspan class="hy" dy="1.5">-</tspan><tspan dy="-1.5">0</tspan>.<tspan class="hv">2</tspan></text>
<text class="tl" transform="translate(1442.5 641.5) scale(0.9050 1)" font-size="54.0" letter-spacing="2.65"><tspan class="hy" dy="1.5">-</tspan><tspan dy="-1.5">0</tspan>.<tspan class="hv">3</tspan></text>
<text class="tl" transform="translate(1442.5 782.1) scale(0.9050 1)" font-size="54.0" letter-spacing="2.65"><tspan class="hy" dy="1.5">-</tspan><tspan dy="-1.5">0</tspan>.<tspan class="hv">4</tspan></text>
<text class="tl" transform="translate(1442.5 926.5) scale(0.9050 1)" font-size="54.0" letter-spacing="2.65"><tspan class="hy" dy="1.5">-</tspan><tspan dy="-1.5">0</tspan>.<tspan class="hv">5</tspan></text>
<text class="tl" transform="translate(1442.5 1066.6) scale(0.9050 1)" font-size="54.0" letter-spacing="2.65"><tspan class="hy" dy="1.5">-</tspan><tspan dy="-1.5">0</tspan>.6</text>
<text transform="translate(195.5 1126.4) scale(0.9350 1)" font-size="57.8" fill="#000" font-weight="bold">100</text>
<text transform="translate(326.5 1126.4) scale(0.9350 1)" font-size="57.8" fill="#000" font-weight="bold">200</text>
<text transform="translate(458.8 1126.4) scale(0.9600 1)" font-size="54.5" fill="#000" class="tl">300</text>
<text transform="translate(588.6 1126.4) scale(0.9350 1)" font-size="57.8" fill="#000" font-weight="bold">400</text>
<text transform="translate(720.9 1126.4) scale(0.9600 1)" font-size="54.5" fill="#000" class="tl">500</text>
<text transform="translate(850.6 1126.4) scale(0.9350 1)" font-size="57.8" fill="#000" font-weight="bold">600</text>
<text transform="translate(983.0 1126.4) scale(0.9600 1)" font-size="54.5" fill="#000" class="tl">700</text>
<text transform="translate(1112.7 1126.4) scale(0.9350 1)" font-size="57.8" fill="#000" font-weight="bold">800</text>
<text transform="translate(1245.0 1126.4) scale(0.9600 1)" font-size="54.5" fill="#000" class="tl">900</text>
<text transform="translate(1361.3 1126.4) scale(0.9350 1)" font-size="57.8" fill="#000" font-weight="bold">1000</text>
<text transform="translate(572.3 1232.8) scale(0.7936 1)" font-size="64.5" fill="#000" font-weight="bold" letter-spacing="4.03">Temperature</text>
<text transform="translate(909.6 1232.8) scale(0.8911 1)" font-size="63.5" fill="#000" class="s1">(°C)</text>
<text transform="translate(52.3 659.8) rotate(-90) scale(1.1087 1)" font-size="56.0" fill="#000" font-weight="bold" letter-spacing="1.53">TG (%)</text>
<text transform="translate(1593.8 764.2) rotate(-90) scale(1.0942 1)" font-size="56.5" fill="#000" font-weight="bold" letter-spacing="1.55">DTG (% / min)</text>
<text transform="translate(1292.5 117.4) scale(0.8551 1)" font-size="50.8" fill="#0072bd" class="sb">TG</text>
<text transform="translate(1285.5 187.7) scale(0.8804 1)" font-size="51.0" fill="#009999" class="st">DTG</text>
<line x1="212.2" y1="289.8" x2="237.4" y2="392.5" stroke="#222" stroke-width="2.1"/>
<polygon points="243.4,416.8 231.1,392.0 242.8,389.1" fill="#000"/>
<line x1="623.4" y1="581.0" x2="701.6" y2="666.5" stroke="#222" stroke-width="2.1"/>
<polygon points="717.8,684.2 695.8,669.1 704.7,661.0" fill="#000"/>
<line x1="522.6" y1="939.8" x2="562.6" y2="972.0" stroke="#222" stroke-width="2.1"/>
<polygon points="578.9,985.2 557.2,975.4 564.8,966.1" fill="#000"/>
<text class="sa" transform="translate(194.6 465.2) scale(0.9 1)" font-size="52.8" fill="#111">H<tspan font-size="38" dy="13.5" dx="0">2</tspan><tspan dy="-13.5" dx="0">O</tspan></text>
<text transform="translate(731.6 723.4) scale(0.8350 1)" font-size="52.8" fill="#111" class="sa">Lignin</text>
<text transform="translate(593.4 1007.9) scale(0.8553 1)" font-size="52.8" fill="#111" class="sa">Hemicellulose</text>
</g>
</svg>
</body></html>
